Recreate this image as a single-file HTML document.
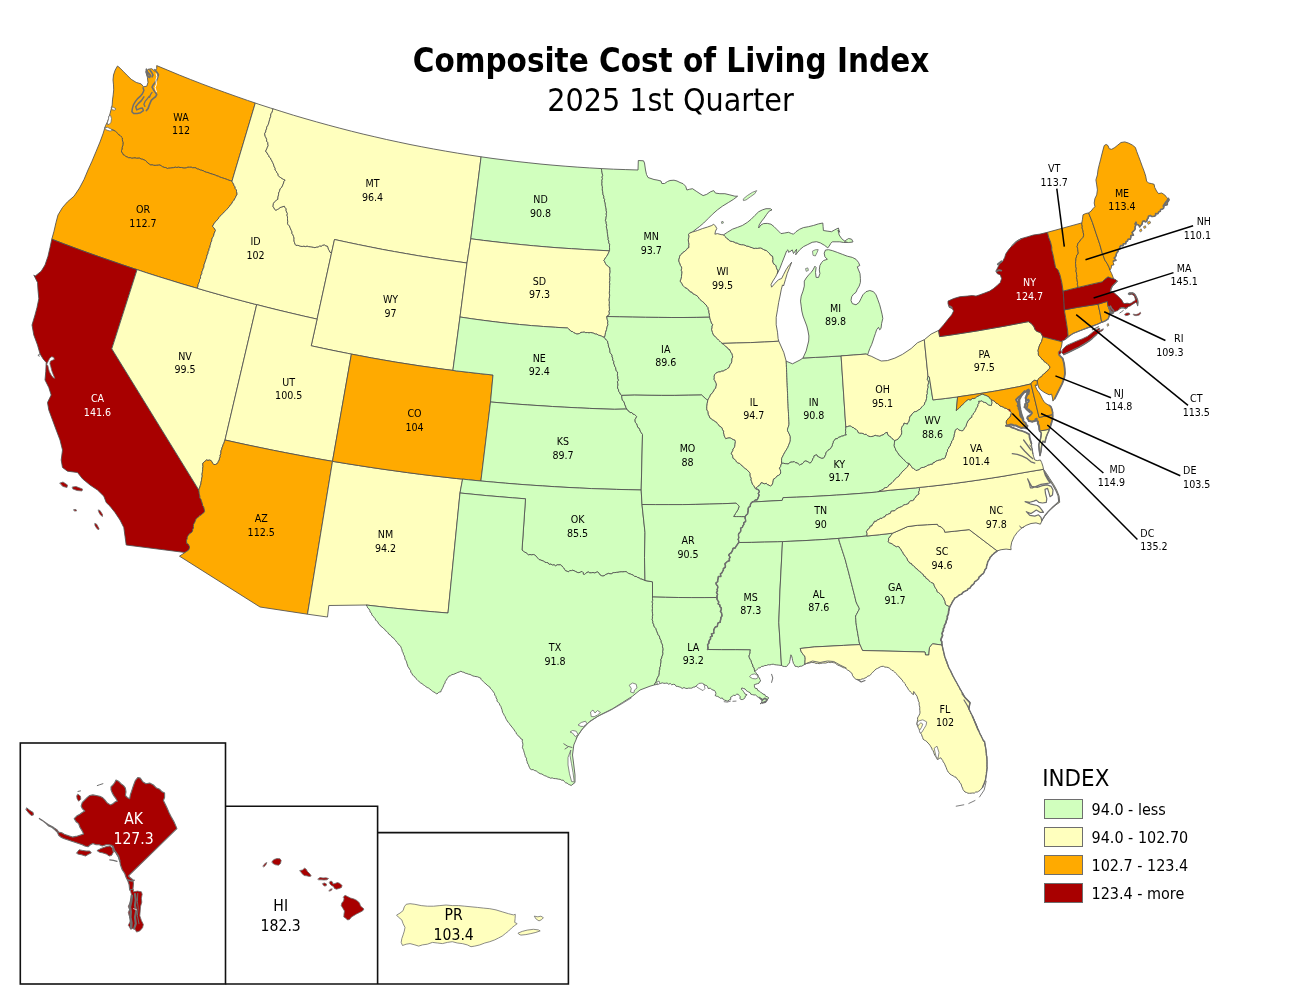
<!DOCTYPE html>
<html lang="en"><head><meta charset="utf-8"><title>Composite Cost of Living Index - 2025 1st Quarter</title>
<style>html,body{margin:0;padding:0;background:#fff}svg{display:block}text{white-space:pre}</style></head>
<body>
<svg width="1300" height="1005" viewBox="0 0 1300 1005">
<rect width="1300" height="1005" fill="#fff"/>
<g stroke="#4f4f4f" stroke-width="0.85" stroke-linejoin="round">
<path d="M117.5,66.0 115.2,70.0 113.5,75.0 113.0,79.9 113.5,84.9 113.7,89.9 113.2,94.9 112.5,99.9 112.2,104.9 111.5,108.0 110.0,113.6 108.7,118.6 106.9,123.0 105.6,125.4 104.7,128.3 106.3,128.6 107.9,128.7 109.5,129.0 111.1,129.3 112.6,129.9 114.0,130.5 115.4,131.3 116.6,132.3 117.6,133.5 118.7,134.8 120.1,135.5 121.2,136.8 122.3,137.9 122.3,139.6 122.6,141.2 123.0,142.7 122.9,144.3 122.7,145.9 122.1,147.4 122.0,149.0 121.5,150.5 121.5,152.0 122.5,153.2 123.1,154.7 124.6,155.4 125.8,156.5 127.2,157.0 128.7,157.8 130.3,157.7 131.8,158.3 133.4,158.1 135.0,157.9 136.6,158.3 138.1,158.2 139.8,158.2 141.2,159.1 142.8,159.3 144.2,160.0 145.7,160.6 146.8,161.9 147.8,163.1 149.3,163.9 150.4,165.1 152.1,164.8 153.6,165.3 155.2,165.4 156.8,165.3 158.4,165.2 160.0,165.0 161.4,166.0 162.7,166.8 164.2,167.4 165.8,167.6 167.3,168.5 168.8,168.2 170.4,168.1 172.0,167.8 173.6,167.7 175.2,167.2 176.8,167.5 178.4,167.2 180.0,167.5 181.6,167.5 183.2,168.0 184.8,168.1 186.4,167.8 187.9,167.2 189.5,167.3 191.2,167.2 192.7,167.8 194.3,167.7 195.9,167.9 197.3,169.0 198.9,169.2 200.3,170.1 201.9,170.3 203.4,170.9 204.8,171.7 206.3,172.3 207.9,172.5 209.3,173.2 210.9,173.7 212.4,174.2 214.0,174.6 215.4,175.2 216.9,175.9 218.5,176.3 219.9,177.1 221.4,177.5 222.9,178.1 224.5,178.5 226.0,179.1 227.5,179.6 229.0,180.3 230.5,180.6 232.0,181.2 233.8,175.0 255.3,103.0 247.5,100.4 236.1,96.4 224.6,92.3 213.3,88.2 201.9,83.9 190.6,79.5 179.3,75.0 168.0,70.3 156.7,65.6 156.7,68.7 154.9,71.2 151.7,68.7 148.0,69.3 146.1,72.5 147.4,77.4 148.0,82.4 146.8,86.2 143.6,86.8 141.1,83.9 136.2,82.4 131.2,79.3 126.8,75.0 123.1,71.2 120.0,68.1Z" fill="#FFAA00"/>
<path d="M104.7,128.3 103.0,133.8 100.0,142.0 96.2,151.2 92.0,161.2 88.0,170.0 84.0,179.5 79.5,188.0 74.0,196.2 67.5,201.8 62.5,207.5 58.0,215.0 56.0,222.5 54.0,231.2 51.8,239.2 63.5,243.7 75.2,248.1 87.0,252.4 98.8,256.6 110.7,260.7 122.5,264.8 134.4,268.8 137.1,269.6 146.3,272.7 158.2,276.5 170.2,280.2 182.2,283.9 194.2,287.4 197.3,288.3 198.0,286.0 198.2,284.3 198.9,282.8 199.5,281.4 199.5,279.7 200.6,278.3 200.5,276.6 201.0,275.0 201.9,273.6 201.8,271.9 202.6,270.4 203.0,268.9 203.8,267.4 204.0,265.8 204.2,264.2 204.9,262.7 205.4,261.1 205.9,259.6 206.5,258.1 206.8,256.5 207.2,254.9 208.0,253.5 208.1,251.8 208.9,250.4 209.1,248.7 209.9,247.3 210.1,245.7 210.6,244.1 210.9,242.5 211.7,241.1 211.9,239.4 212.3,237.9 213.3,236.6 213.8,235.0 214.2,233.4 214.8,231.9 215.5,230.5 214.8,229.0 213.8,227.8 212.7,226.6 213.1,225.2 214.0,223.8 214.8,222.4 216.1,221.3 217.0,220.0 218.2,218.9 219.0,217.5 220.0,216.2 221.2,215.1 222.4,214.0 223.6,212.9 224.5,211.5 225.8,210.6 226.8,209.3 228.1,208.2 228.9,206.8 230.1,205.7 231.0,204.4 232.0,203.1 232.7,201.6 233.9,200.4 234.6,198.9 235.5,197.6 236.0,196.0 237.0,194.8 237.0,193.1 236.5,191.6 236.5,189.9 235.3,188.7 235.1,186.9 234.1,185.6 233.6,184.1 232.7,182.7 232.0,181.2 230.5,180.6 229.0,180.3 227.5,179.6 226.0,179.1 224.5,178.5 222.9,178.1 221.4,177.5 219.9,177.1 218.5,176.3 216.9,175.9 215.4,175.2 214.0,174.6 212.4,174.2 210.9,173.7 209.3,173.2 207.9,172.5 206.3,172.3 204.8,171.7 203.4,170.9 201.9,170.3 200.3,170.1 198.9,169.2 197.3,169.0 195.9,167.9 194.3,167.7 192.7,167.8 191.2,167.2 189.5,167.3 187.9,167.2 186.4,167.8 184.8,168.1 183.2,168.0 181.6,167.5 180.0,167.5 178.4,167.2 176.8,167.5 175.2,167.2 173.6,167.7 172.0,167.8 170.4,168.1 168.8,168.2 167.3,168.5 165.8,167.6 164.2,167.4 162.7,166.8 161.4,166.0 160.0,165.0 158.4,165.2 156.8,165.3 155.2,165.4 153.6,165.3 152.1,164.8 150.4,165.1 149.3,163.9 147.8,163.1 146.8,161.9 145.7,160.6 144.2,160.0 142.8,159.3 141.2,159.1 139.8,158.2 138.1,158.2 136.6,158.3 135.0,157.9 133.4,158.1 131.8,158.3 130.3,157.7 128.7,157.8 127.2,157.0 125.8,156.5 124.6,155.4 123.1,154.7 122.5,153.2 121.5,152.0 121.5,150.5 122.0,149.0 122.1,147.4 122.7,145.9 122.9,144.3 123.0,142.7 122.6,141.2 122.3,139.6 122.3,137.9 121.2,136.8 120.1,135.5 118.7,134.8 117.6,133.5 116.6,132.3 115.4,131.3 114.0,130.5 112.6,129.9 111.1,129.3 109.5,129.0 107.9,128.7 106.3,128.6Z" fill="#FFAA00"/>
<path d="M51.8,239.2 50.0,247.5 48.0,256.2 45.0,265.0 41.2,271.2 35.0,276.2 33.8,275.0 37.5,282.5 38.0,290.0 38.8,298.8 37.0,307.5 35.0,315.0 32.0,325.0 33.8,335.0 37.5,345.0 40.0,353.8 43.0,358.8 46.2,362.5 45.8,371.2 45.0,380.0 48.8,387.5 51.2,395.0 47.5,402.5 48.8,410.0 52.5,420.0 56.2,430.0 60.0,440.0 62.5,450.0 61.2,460.0 62.5,467.5 67.5,471.2 77.5,472.5 82.5,478.8 90.0,485.0 97.5,490.0 103.8,496.2 106.2,502.5 110.0,506.2 115.0,512.5 120.0,520.0 123.8,527.5 125.0,536.2 126.2,545.0 185.0,552.5 186.3,551.6 187.7,550.7 188.9,549.7 189.4,548.2 189.5,546.5 189.0,545.5 188.2,544.1 186.7,543.3 186.6,541.8 186.5,540.2 187.3,538.7 187.2,537.0 188.1,535.7 189.1,534.4 190.2,533.2 191.7,532.4 192.5,531.1 192.7,529.5 193.5,528.0 193.4,526.3 193.5,524.6 194.3,523.2 195.0,521.8 195.6,520.3 196.1,518.7 197.5,517.7 198.8,516.8 199.9,515.6 201.3,514.8 202.5,513.7 203.8,512.8 204.6,511.4 204.4,510.1 204.1,508.5 203.7,506.9 202.7,505.6 202.4,504.0 202.0,502.4 201.4,500.9 201.1,499.3 199.8,498.1 199.9,496.3 199.5,494.8 199.2,493.2 199.0,491.6 198.8,490.0 111.8,348.8 137.1,269.6 134.4,268.8 122.5,264.8 110.7,260.7 98.8,256.6 87.0,252.4 75.2,248.1 63.5,243.7Z" fill="#A80000"/>
<path d="M197.3,288.3 194.2,287.4 182.2,283.9 170.2,280.2 158.2,276.5 146.3,272.7 137.1,269.6 111.8,348.8 198.8,490.0 199.3,488.5 199.9,487.0 200.3,485.5 200.9,484.0 201.0,482.3 201.4,480.8 201.6,479.2 201.9,477.6 202.3,476.1 202.0,474.4 202.3,472.8 202.5,471.3 202.7,469.7 202.7,468.1 203.0,466.5 202.8,464.9 202.8,463.2 204.1,462.2 205.2,461.0 206.4,460.0 208.0,460.4 209.6,460.1 211.1,460.6 211.9,461.9 212.7,463.3 213.7,464.5 215.4,464.5 216.9,463.9 217.8,462.8 218.4,461.3 219.3,460.0 219.5,458.3 220.3,456.9 220.1,455.2 220.9,453.7 220.9,452.1 221.1,450.5 221.8,449.1 222.1,447.5 222.8,446.0 223.2,444.5 224.0,443.1 224.4,441.5 225.0,440.0 256.7,304.6 254.5,304.1 242.4,300.9 230.3,297.7 218.2,294.3 206.2,290.9Z" fill="#FFFFBE"/>
<path d="M273.1,108.8 270.4,108.0 258.9,104.3 255.3,103.0 233.8,175.0 232.0,181.2 232.7,182.7 233.6,184.1 234.1,185.6 235.1,186.9 235.3,188.7 236.5,189.9 236.5,191.6 237.0,193.1 237.0,194.8 236.0,196.0 235.5,197.6 234.6,198.9 233.9,200.4 232.7,201.6 232.0,203.1 231.0,204.4 230.1,205.7 228.9,206.8 228.1,208.2 226.8,209.3 225.8,210.6 224.5,211.5 223.6,212.9 222.4,214.0 221.2,215.1 220.0,216.2 219.0,217.5 218.2,218.9 217.0,220.0 216.1,221.3 214.8,222.4 214.0,223.8 213.1,225.2 212.7,226.6 213.8,227.8 214.8,229.0 215.5,230.5 214.8,231.9 214.2,233.4 213.8,235.0 213.3,236.6 212.3,237.9 211.9,239.4 211.7,241.1 210.9,242.5 210.6,244.1 210.1,245.7 209.9,247.3 209.1,248.7 208.9,250.4 208.1,251.8 208.0,253.5 207.2,254.9 206.8,256.5 206.5,258.1 205.9,259.6 205.4,261.1 204.9,262.7 204.2,264.2 204.0,265.8 203.8,267.4 203.0,268.9 202.6,270.4 201.8,271.9 201.9,273.6 201.0,275.0 200.5,276.6 200.6,278.3 199.5,279.7 199.5,281.4 198.9,282.8 198.2,284.3 198.0,286.0 197.3,288.3 206.2,290.9 218.2,294.3 230.3,297.7 242.4,300.9 254.5,304.1 256.7,304.6 266.7,307.2 278.8,310.2 291.0,313.1 303.3,316.0 317.1,319.1 331.5,253.1 329.9,252.1 329.3,250.5 328.4,249.2 328.1,247.6 327.4,246.1 325.8,245.8 324.4,244.8 322.7,245.2 321.3,246.1 319.6,245.9 318.2,246.9 316.5,247.0 315.0,247.7 313.4,247.3 311.8,246.9 310.2,246.7 308.6,246.6 307.1,246.0 305.4,246.6 303.8,246.1 302.2,246.5 300.6,246.2 299.1,245.7 297.6,245.3 295.9,245.3 295.2,244.3 294.6,242.8 294.1,241.2 294.0,239.6 294.1,238.0 293.5,236.4 293.0,234.9 292.0,233.5 292.0,231.8 291.3,230.4 290.6,228.9 290.0,227.4 289.4,225.9 288.2,224.7 287.5,223.3 287.8,221.6 287.5,220.0 287.5,218.4 287.5,216.8 287.0,215.2 287.4,213.5 286.6,212.0 286.1,210.5 286.2,208.8 285.1,207.6 284.4,206.2 283.0,206.6 281.5,207.0 280.0,207.6 278.7,208.7 277.3,209.5 275.9,210.2 274.7,209.4 274.0,207.9 273.1,206.8 273.2,205.2 273.4,203.5 274.4,202.1 275.4,201.4 276.5,200.1 277.9,199.3 277.9,197.8 278.2,196.2 278.6,194.8 278.6,193.0 279.4,191.6 279.8,190.1 280.4,188.5 281.7,187.4 282.4,186.0 283.0,184.5 283.6,183.0 284.0,181.4 285.2,180.0 283.5,179.4 282.1,178.5 280.8,177.7 279.4,176.8 278.3,175.6 278.0,173.9 276.9,172.7 276.3,171.2 275.1,170.0 275.2,168.3 274.3,166.9 273.8,165.3 273.3,163.8 272.6,162.4 271.9,160.9 271.1,159.6 270.5,158.0 269.2,157.0 268.7,155.4 267.6,154.1 267.0,152.6 265.7,151.6 266.1,150.1 266.9,148.7 267.4,147.2 268.2,145.7 267.9,144.1 267.8,142.5 266.6,141.1 266.7,139.4 266.1,137.9 265.3,136.5 264.9,135.0 264.7,133.4 265.7,132.0 265.9,130.3 266.6,128.9 266.7,127.2 267.6,125.8 268.3,124.4 268.8,122.8 269.2,121.3 269.6,119.7 270.0,118.1 270.7,116.7 270.7,115.0 271.2,113.5 272.2,112.1 272.5,110.5Z" fill="#FFFFBE"/>
<path d="M481.1,156.8 469.2,155.0 457.3,153.1 445.4,151.1 433.6,149.0 421.8,146.8 410.0,144.5 398.2,142.0 386.5,139.5 374.8,136.8 363.1,134.1 351.4,131.2 339.8,128.2 328.2,125.1 316.6,121.9 305.0,118.6 293.4,115.2 281.9,111.6 273.1,108.8 272.5,110.5 272.2,112.1 271.2,113.5 270.7,115.0 270.7,116.7 270.0,118.1 269.6,119.7 269.2,121.3 268.8,122.8 268.3,124.4 267.6,125.8 266.7,127.2 266.6,128.9 265.9,130.3 265.7,132.0 264.7,133.4 264.9,135.0 265.3,136.5 266.1,137.9 266.7,139.4 266.6,141.1 267.8,142.5 267.9,144.1 268.2,145.7 267.4,147.2 266.9,148.7 266.1,150.1 265.7,151.6 267.0,152.6 267.6,154.1 268.7,155.4 269.2,157.0 270.5,158.0 271.1,159.6 271.9,160.9 272.6,162.4 273.3,163.8 273.8,165.3 274.3,166.9 275.2,168.3 275.1,170.0 276.3,171.2 276.9,172.7 278.0,173.9 278.3,175.6 279.4,176.8 280.8,177.7 282.1,178.5 283.5,179.4 285.2,180.0 284.0,181.4 283.6,183.0 283.0,184.5 282.4,186.0 281.7,187.4 280.4,188.5 279.8,190.1 279.4,191.6 278.6,193.0 278.6,194.8 278.2,196.2 277.9,197.8 277.9,199.3 276.5,200.1 275.4,201.4 274.4,202.1 273.4,203.5 273.2,205.2 273.1,206.8 274.0,207.9 274.7,209.4 275.9,210.2 277.3,209.5 278.7,208.7 280.0,207.6 281.5,207.0 283.0,206.6 284.4,206.2 285.1,207.6 286.2,208.8 286.1,210.5 286.6,212.0 287.4,213.5 287.0,215.2 287.5,216.8 287.5,218.4 287.5,220.0 287.8,221.6 287.5,223.3 288.2,224.7 289.4,225.9 290.0,227.4 290.6,228.9 291.3,230.4 292.0,231.8 292.0,233.5 293.0,234.9 293.5,236.4 294.1,238.0 294.0,239.6 294.1,241.2 294.6,242.8 295.2,244.3 295.9,245.3 297.6,245.3 299.1,245.7 300.6,246.2 302.2,246.5 303.8,246.1 305.4,246.6 307.1,246.0 308.6,246.6 310.2,246.7 311.8,246.9 313.4,247.3 315.0,247.7 316.5,247.0 318.2,246.9 319.6,245.9 321.3,246.1 322.7,245.2 324.4,244.8 325.8,245.8 327.4,246.1 328.1,247.6 328.4,249.2 329.3,250.5 329.9,252.1 331.5,253.1 334.5,239.5 346.5,242.1 358.4,244.6 370.4,247.0 382.4,249.4 394.5,251.6 406.5,253.7 418.6,255.8 430.7,257.7 442.8,259.6 454.9,261.3 467.0,263.0 470.8,238.8Z" fill="#FFFFBE"/>
<path d="M334.5,239.5 331.5,253.1 317.1,319.1 311.2,345.8 323.3,348.4 335.3,350.9 347.3,353.3 351.4,354.1 359.4,355.6 371.5,357.9 383.5,360.0 395.6,362.1 407.8,364.0 419.9,365.9 432.0,367.6 444.2,369.3 452.9,370.4 460.0,317.0 467.0,263.0 454.9,261.3 442.8,259.6 430.7,257.7 418.6,255.8 406.5,253.7 394.5,251.6 382.4,249.4 370.4,247.0 358.4,244.6 346.5,242.1Z" fill="#FFFFBE"/>
<path d="M317.1,319.1 303.3,316.0 291.0,313.1 278.8,310.2 266.7,307.2 256.7,304.6 225.0,440.0 237.1,442.7 249.2,445.3 261.3,447.8 273.4,450.3 285.6,452.7 297.7,455.0 309.9,457.3 322.0,459.5 332.5,461.3 332.5,461.2 351.4,354.1 347.3,353.3 335.3,350.9 323.3,348.4 311.2,345.8Z" fill="#FFFFBE"/>
<path d="M185.0,552.5 179.5,556.2 260.0,607.0 307.5,614.2 332.5,461.3 322.0,459.5 309.9,457.3 297.7,455.0 285.6,452.7 273.4,450.3 261.3,447.8 249.2,445.3 237.1,442.7 225.0,440.0 224.4,441.5 224.0,443.1 223.2,444.5 222.8,446.0 222.1,447.5 221.8,449.1 221.1,450.5 220.9,452.1 220.9,453.7 220.1,455.2 220.3,456.9 219.5,458.3 219.3,460.0 218.4,461.3 217.8,462.8 216.9,463.9 215.4,464.5 213.7,464.5 212.7,463.3 211.9,461.9 211.1,460.6 209.6,460.1 208.0,460.4 206.4,460.0 205.2,461.0 204.1,462.2 202.8,463.2 202.8,464.9 203.0,466.5 202.7,468.1 202.7,469.7 202.5,471.3 202.3,472.8 202.0,474.4 202.3,476.1 201.9,477.6 201.6,479.2 201.4,480.8 201.0,482.3 200.9,484.0 200.3,485.5 199.9,487.0 199.3,488.5 198.8,490.0 199.0,491.6 199.2,493.2 199.5,494.8 199.9,496.3 199.8,498.1 201.1,499.3 201.4,500.9 202.0,502.4 202.4,504.0 202.7,505.6 203.7,506.9 204.1,508.5 204.4,510.1 204.6,511.4 203.8,512.8 202.5,513.7 201.3,514.8 199.9,515.6 198.8,516.8 197.5,517.7 196.1,518.7 195.6,520.3 195.0,521.8 194.3,523.2 193.5,524.6 193.4,526.3 193.5,528.0 192.7,529.5 192.5,531.1 191.7,532.4 190.2,533.2 189.1,534.4 188.1,535.7 187.2,537.0 187.3,538.7 186.5,540.2 186.6,541.8 186.7,543.3 188.2,544.1 189.0,545.5 189.5,546.5 189.4,548.2 188.9,549.7 187.7,550.7 186.3,551.6Z" fill="#FFAA00"/>
<path d="M307.5,614.2 327.5,617.0 328.8,605.5 366.2,605.0 379.9,606.6 393.5,608.1 407.1,609.4 420.7,610.7 434.4,611.9 448.0,613.0 460.0,493.0 462.6,479.1 456.3,478.5 444.1,477.1 431.8,475.7 419.6,474.2 407.4,472.6 395.2,470.9 382.9,469.2 370.7,467.4 358.5,465.5 346.4,463.6 334.2,461.6 332.5,461.3Z" fill="#FFFFBE"/>
<path d="M332.5,461.3 334.2,461.6 346.4,463.6 358.5,465.5 370.7,467.4 382.9,469.2 395.2,470.9 407.4,472.6 419.6,474.2 431.8,475.7 444.1,477.1 456.3,478.5 462.6,479.1 468.6,479.8 480.9,481.0 490.5,402.0 493.0,375.0 480.8,373.7 468.6,372.3 456.4,370.9 452.9,370.4 444.2,369.3 432.0,367.6 419.9,365.9 407.8,364.0 395.6,362.1 383.5,360.0 371.5,357.9 359.4,355.6 351.4,354.1 332.5,461.2Z" fill="#FFAA00"/>
<path d="M601.4,168.6 589.3,167.9 577.2,167.1 565.1,166.2 553.0,165.2 541.0,164.1 528.9,162.8 516.9,161.5 505.0,160.0 493.0,158.5 481.1,156.8 470.8,238.8 483.3,240.4 495.9,241.9 508.5,243.3 521.1,244.6 533.7,245.8 546.3,246.9 558.9,247.9 571.6,248.7 584.2,249.5 596.8,250.2 609.5,250.8 609.6,249.1 609.5,247.5 609.5,245.9 609.7,244.2 608.7,242.8 608.9,241.1 608.1,239.6 608.3,238.0 607.8,236.4 607.7,234.8 607.4,233.2 607.3,231.6 607.2,229.9 606.7,228.4 606.3,226.8 606.8,225.1 606.2,223.5 606.2,221.9 605.4,220.4 606.0,218.7 606.1,217.1 606.5,215.5 606.2,213.9 606.6,212.2 606.2,210.6 606.2,209.0 605.8,207.4 605.4,205.8 605.3,204.2 605.1,202.6 604.3,201.1 604.7,199.4 603.7,198.0 603.9,196.3 603.1,194.8 602.9,193.2 602.7,191.5 602.3,190.0 602.4,188.4 602.4,186.7 602.0,185.2 601.9,183.6 602.1,181.9 601.9,180.3 602.5,178.7 602.0,177.1 602.7,175.5 602.3,173.9 602.0,172.3 601.7,170.7Z" fill="#D1FFBE"/>
<path d="M470.8,238.8 467.0,263.0 460.0,317.0 471.9,318.8 483.8,320.4 495.7,321.9 507.6,323.3 519.6,324.5 531.5,325.6 543.5,326.5 555.5,327.3 567.5,328.0 568.7,329.1 570.0,330.1 571.0,331.4 572.7,331.6 573.9,332.8 575.4,333.4 576.9,334.1 578.2,333.9 579.7,333.4 581.0,332.4 582.7,332.3 584.2,332.1 585.8,332.7 587.4,332.5 589.0,332.9 590.7,332.5 592.3,332.9 593.8,333.3 595.3,334.1 597.0,334.1 598.3,335.2 599.9,335.5 601.4,336.1 602.8,336.8 604.3,337.4 605.0,335.9 605.3,334.2 605.5,332.6 606.1,331.0 606.6,329.4 606.9,327.8 607.3,326.2 608.0,324.7 607.6,323.1 607.9,321.3 607.3,319.7 607.0,318.1 606.8,316.5 609.2,314.7 609.4,313.1 609.0,311.5 609.6,309.8 609.4,308.2 609.4,306.6 609.2,305.0 609.4,303.3 609.4,301.7 609.1,300.1 609.3,298.5 609.5,296.8 609.7,295.2 609.4,293.6 609.4,292.0 609.6,290.3 609.5,288.7 609.6,287.1 609.6,285.5 609.9,283.8 609.4,282.2 609.9,280.6 609.8,279.0 610.0,277.3 609.6,275.7 609.6,274.1 610.1,272.5 610.1,270.8 609.9,269.2 610.0,267.6 608.6,266.9 607.5,265.5 606.2,264.7 605.4,263.3 604.8,261.8 603.9,260.4 604.7,259.2 605.5,257.8 606.5,256.5 607.4,255.2 608.2,253.7 608.8,252.2 609.5,250.8 596.8,250.2 584.2,249.5 571.6,248.7 558.9,247.9 546.3,246.9 533.7,245.8 521.1,244.6 508.5,243.3 495.9,241.9 483.3,240.4Z" fill="#FFFFBE"/>
<path d="M452.9,370.4 456.4,370.9 468.6,372.3 480.8,373.7 493.0,375.0 490.5,402.0 502.9,403.0 515.2,404.0 527.6,404.9 540.0,405.7 552.4,406.5 564.8,407.2 577.2,407.8 589.6,408.4 602.0,408.9 614.4,409.3 626.9,409.0 626.0,407.6 625.5,406.0 624.8,404.6 624.4,403.0 623.8,401.4 622.4,400.3 622.1,398.7 621.8,397.1 621.8,395.4 620.4,394.3 619.9,392.7 618.7,391.5 618.6,389.8 617.7,388.3 617.5,386.7 618.0,385.1 617.8,383.4 617.4,381.8 618.6,380.2 617.8,378.5 617.9,376.9 617.4,375.4 617.5,373.7 617.6,372.0 616.2,370.8 615.9,369.2 615.6,367.5 614.7,366.2 614.3,364.6 613.6,363.1 613.9,361.3 612.6,360.0 612.8,358.3 612.1,356.8 612.1,355.1 610.9,353.8 610.0,352.3 609.9,350.7 609.7,349.0 609.0,347.5 608.4,346.0 608.4,344.3 607.8,342.9 607.6,341.1 606.3,340.0 605.3,338.7 604.3,337.4 602.8,336.8 601.4,336.1 599.9,335.5 598.3,335.2 597.0,334.1 595.3,334.1 593.8,333.3 592.3,332.9 590.7,332.5 589.0,332.9 587.4,332.5 585.8,332.7 584.2,332.1 582.7,332.3 581.0,332.4 579.7,333.4 578.2,333.9 576.9,334.1 575.4,333.4 573.9,332.8 572.7,331.6 571.0,331.4 570.0,330.1 568.7,329.1 567.5,328.0 555.5,327.3 543.5,326.5 531.5,325.6 519.6,324.5 507.6,323.3 495.7,321.9 483.8,320.4 471.9,318.8 460.0,317.0Z" fill="#D1FFBE"/>
<path d="M480.9,481.0 493.2,482.1 505.5,483.2 517.8,484.2 530.1,485.1 542.4,485.9 554.7,486.7 567.0,487.4 579.4,488.0 591.7,488.6 604.1,489.0 616.5,489.4 628.9,489.7 641.2,490.0 642.5,434.5 641.2,432.5 640.3,431.2 639.8,429.6 639.1,428.1 637.6,427.1 637.3,425.4 636.8,423.9 635.5,422.7 635.1,421.1 635.1,419.5 635.9,418.1 636.7,416.7 635.7,415.5 634.4,414.4 632.9,414.0 631.8,412.5 630.0,412.6 629.0,411.1 627.6,410.3 626.9,409.0 614.4,409.3 602.0,408.9 589.6,408.4 577.2,407.8 564.8,407.2 552.4,406.5 540.0,405.7 527.6,404.9 515.2,404.0 502.9,403.0 490.5,402.0Z" fill="#D1FFBE"/>
<path d="M480.9,481.0 468.6,479.8 462.6,479.1 460.0,493.0 473.1,494.3 486.2,495.6 499.3,496.7 512.4,497.8 525.5,498.8 522.0,550.0 523.2,551.1 524.5,552.1 526.0,552.7 527.2,553.8 528.4,554.9 530.0,554.5 531.6,554.9 533.3,554.5 534.8,555.1 536.1,556.1 537.1,557.4 538.1,558.6 539.1,559.6 540.5,560.0 542.0,560.6 543.6,561.0 544.8,562.3 546.5,562.5 548.1,562.9 549.2,564.4 551.0,564.1 552.4,565.1 554.1,564.8 555.6,565.9 557.2,564.8 558.8,564.9 560.4,564.8 561.7,565.6 562.6,567.0 563.8,568.1 564.6,569.5 565.6,570.8 567.2,571.3 568.5,571.9 569.7,570.6 571.5,570.6 572.9,570.2 574.3,570.9 575.8,571.6 577.2,572.4 578.8,572.7 580.4,572.2 581.9,571.4 583.1,572.6 583.4,574.3 584.4,574.5 585.6,573.5 586.9,572.5 588.3,572.0 589.8,572.9 591.5,572.8 593.0,572.5 594.7,573.0 596.2,572.3 597.8,572.0 599.0,573.2 599.8,574.7 601.2,575.6 602.5,576.0 604.1,575.8 605.4,574.7 606.9,574.1 608.4,573.4 610.1,573.8 611.7,573.7 613.2,572.7 614.8,572.6 616.4,572.4 618.0,572.3 619.6,572.0 621.2,571.8 622.8,571.9 624.4,571.7 626.1,571.6 627.4,572.6 628.7,573.5 630.3,574.0 631.8,574.6 633.3,575.2 634.5,576.4 636.3,576.5 637.6,577.5 639.1,577.9 640.4,578.9 642.0,579.2 643.5,579.9 645.0,580.5 644.5,557.5 645.0,532.5 642.0,504.5 641.2,490.0 628.9,489.7 616.5,489.4 604.1,489.0 591.7,488.6 579.4,488.0 567.0,487.4 554.7,486.7 542.4,485.9 530.1,485.1 517.8,484.2 505.5,483.2 493.2,482.1Z" fill="#D1FFBE"/>
<path d="M366.2,605.0 367.1,606.4 367.7,607.9 369.0,609.0 369.8,610.4 370.1,612.1 371.5,613.1 371.8,614.8 372.8,616.1 374.0,617.2 375.0,618.4 375.6,620.0 376.7,621.2 378.0,622.2 378.5,623.8 379.8,624.8 380.7,626.2 382.1,627.1 383.2,628.2 384.6,629.2 385.4,630.6 386.8,631.5 387.9,632.7 388.7,634.1 390.1,635.0 391.3,636.0 392.2,637.4 393.7,638.2 394.6,639.6 395.8,640.7 396.6,642.1 397.8,643.2 398.6,644.6 400.0,645.5 400.9,646.9 401.4,648.4 402.0,649.9 402.3,651.5 403.2,652.9 403.5,654.5 404.4,655.9 404.8,657.4 405.0,659.1 405.9,660.5 406.6,661.9 406.9,663.5 407.5,665.0 407.9,666.6 408.9,667.9 409.6,669.3 410.7,670.6 410.7,672.4 412.1,673.5 412.5,675.1 413.8,676.0 415.0,677.1 415.9,678.5 417.1,679.6 418.2,680.7 419.3,681.9 420.6,682.9 422.0,683.6 423.2,684.7 424.6,685.6 425.8,686.6 427.2,687.5 428.7,688.1 429.9,689.1 431.2,690.1 432.4,691.2 433.8,692.0 435.3,692.7 436.5,694.0 438.0,693.2 439.2,692.0 440.9,691.8 441.3,690.2 442.2,688.8 442.9,687.3 443.5,685.9 444.1,684.3 445.1,683.0 445.3,681.3 446.4,680.1 447.1,678.7 448.1,677.4 449.0,676.1 450.6,675.7 451.9,674.6 453.5,674.4 455.0,673.7 456.5,673.1 457.9,672.4 459.5,671.9 460.9,671.2 462.3,672.0 463.9,672.3 465.3,673.2 466.9,673.5 468.4,674.2 470.0,674.4 471.4,675.2 472.9,675.9 474.4,676.3 476.0,676.6 477.6,676.8 479.1,677.5 480.6,678.0 481.2,679.5 482.3,680.7 483.6,681.8 484.7,682.8 485.8,684.0 487.1,684.9 488.2,686.1 489.7,686.9 490.4,688.4 491.6,689.5 492.6,690.8 493.5,692.1 494.5,693.4 494.7,695.1 495.8,696.3 496.1,698.0 497.0,699.3 497.0,701.1 498.2,702.3 499.3,703.5 499.8,705.1 500.8,706.3 501.3,707.9 501.9,709.4 502.3,710.9 502.6,712.5 503.6,713.9 504.2,715.3 505.1,716.6 505.7,718.2 506.4,719.6 507.3,721.0 508.2,722.3 509.3,723.5 510.1,724.9 511.2,726.0 512.0,727.4 513.3,728.5 514.1,729.9 515.0,731.3 516.0,732.5 516.5,734.1 517.8,735.1 518.7,736.5 520.1,737.3 520.9,738.9 522.5,739.5 522.2,741.3 522.7,742.9 522.9,744.5 522.7,746.1 522.4,747.7 523.2,749.2 523.7,750.7 524.1,752.2 524.6,753.8 525.0,755.3 525.4,756.9 526.5,758.2 526.4,759.9 527.1,761.4 527.3,763.0 528.3,764.4 528.8,765.9 529.4,767.4 530.1,768.8 531.5,769.7 533.2,769.6 534.6,770.6 536.2,770.9 537.5,772.0 538.8,772.9 540.2,773.7 541.9,774.0 543.2,774.9 544.6,775.7 546.2,776.1 547.6,777.0 549.1,777.4 550.5,778.2 552.2,777.9 553.7,778.5 555.3,778.6 557.0,778.8 558.5,779.2 560.1,779.3 561.6,780.2 563.3,780.2 564.3,781.5 565.5,782.7 567.1,783.1 568.3,784.2 569.8,784.8 571.2,785.5 575.0,782.5 575.0,775.0 573.8,765.0 572.5,755.0 573.8,745.0 577.5,736.2 582.5,728.8 590.0,721.2 600.0,715.0 612.5,708.8 622.5,702.5 632.5,696.2 640.0,690.0 650.0,686.2 654.4,684.9 655.2,683.1 656.2,681.7 656.6,680.1 657.2,678.6 657.8,677.1 658.8,675.7 659.2,674.1 659.3,672.5 659.3,670.8 659.9,669.3 659.8,667.6 660.6,666.1 660.5,664.4 660.9,662.9 661.1,661.2 660.9,659.5 661.7,658.0 662.0,656.5 662.7,654.9 663.0,653.4 662.7,651.7 663.1,650.1 663.1,648.4 662.5,646.8 662.6,645.2 662.0,643.7 661.2,642.2 661.2,640.5 660.2,639.1 659.7,637.6 659.3,636.0 658.2,634.8 657.6,633.3 657.0,631.7 656.3,630.2 656.0,628.6 654.8,627.3 653.9,626.0 653.7,624.3 652.8,622.9 652.9,621.4 652.2,619.8 652.5,618.1 652.4,616.5 652.8,614.9 652.5,613.3 652.4,611.6 652.3,610.0 652.5,608.4 652.4,606.8 652.4,605.1 652.7,603.5 652.1,601.9 652.8,600.3 652.5,598.6 652.5,597.0 652.5,581.8 645.0,580.5 643.5,579.9 642.0,579.2 640.4,578.9 639.1,577.9 637.6,577.5 636.3,576.5 634.5,576.4 633.3,575.2 631.8,574.6 630.3,574.0 628.7,573.5 627.4,572.6 626.1,571.6 624.4,571.7 622.8,571.9 621.2,571.8 619.6,572.0 618.0,572.3 616.4,572.4 614.8,572.6 613.2,572.7 611.7,573.7 610.1,573.8 608.4,573.4 606.9,574.1 605.4,574.7 604.1,575.8 602.5,576.0 601.2,575.6 599.8,574.7 599.0,573.2 597.8,572.0 596.2,572.3 594.7,573.0 593.0,572.5 591.5,572.8 589.8,572.9 588.3,572.0 586.9,572.5 585.6,573.5 584.4,574.5 583.4,574.3 583.1,572.6 581.9,571.4 580.4,572.2 578.8,572.7 577.2,572.4 575.8,571.6 574.3,570.9 572.9,570.2 571.5,570.6 569.7,570.6 568.5,571.9 567.2,571.3 565.6,570.8 564.6,569.5 563.8,568.1 562.6,567.0 561.7,565.6 560.4,564.8 558.8,564.9 557.2,564.8 555.6,565.9 554.1,564.8 552.4,565.1 551.0,564.1 549.2,564.4 548.1,562.9 546.5,562.5 544.8,562.3 543.6,561.0 542.0,560.6 540.5,560.0 539.1,559.6 538.1,558.6 537.1,557.4 536.1,556.1 534.8,555.1 533.3,554.5 531.6,554.9 530.0,554.5 528.4,554.9 527.2,553.8 526.0,552.7 524.5,552.1 523.2,551.1 522.0,550.0 525.5,498.8 512.4,497.8 499.3,496.7 486.2,495.6 473.1,494.3 460.0,493.0 448.0,613.0 434.4,611.9 420.7,610.7 407.1,609.4 393.5,608.1 379.9,606.6Z" fill="#D1FFBE"/>
<path d="M692.5,232.0 695.0,229.9 699.3,226.7 703.7,223.0 708.1,218.6 712.4,214.3 717.4,209.9 722.4,206.2 728.6,202.4 733.6,199.3 737.6,196.2 734.9,196.2 729.9,194.9 724.9,193.7 719.9,193.7 715.5,193.1 713.7,190.6 710.5,191.8 706.8,194.3 703.1,195.6 700.0,193.7 696.2,191.2 692.5,188.7 689.4,189.3 686.9,190.0 685.6,186.2 683.1,183.7 680.0,182.5 677.0,181.0 674.0,180.2 670.0,180.5 667.5,181.5 664.5,183.5 661.8,183.5 661.0,181.0 657.0,180.0 654.0,179.5 651.0,178.5 648.0,177.5 646.5,174.5 645.5,170.0 644.5,163.0 643.5,160.8 638.3,160.5 638.0,170.0 625.8,169.6 613.6,169.2 601.4,168.6 601.7,170.7 602.0,172.3 602.3,173.9 602.7,175.5 602.0,177.1 602.5,178.7 601.9,180.3 602.1,181.9 601.9,183.6 602.0,185.2 602.4,186.7 602.4,188.4 602.3,190.0 602.7,191.5 602.9,193.2 603.1,194.8 603.9,196.3 603.7,198.0 604.7,199.4 604.3,201.1 605.1,202.6 605.3,204.2 605.4,205.8 605.8,207.4 606.2,209.0 606.2,210.6 606.6,212.2 606.2,213.9 606.5,215.5 606.1,217.1 606.0,218.7 605.4,220.4 606.2,221.9 606.2,223.5 606.8,225.1 606.3,226.8 606.7,228.4 607.2,229.9 607.3,231.6 607.4,233.2 607.7,234.8 607.8,236.4 608.3,238.0 608.1,239.6 608.9,241.1 608.7,242.8 609.7,244.2 609.5,245.9 609.5,247.5 609.6,249.1 609.5,250.8 608.8,252.2 608.2,253.7 607.4,255.2 606.5,256.5 605.5,257.8 604.7,259.2 603.9,260.4 604.8,261.8 605.4,263.3 606.2,264.7 607.5,265.5 608.6,266.9 610.0,267.6 609.9,269.2 610.1,270.8 610.1,272.5 609.6,274.1 609.6,275.7 610.0,277.3 609.8,279.0 609.9,280.6 609.4,282.2 609.9,283.8 609.6,285.5 609.6,287.1 609.5,288.7 609.6,290.3 609.4,292.0 609.4,293.6 609.7,295.2 609.5,296.8 609.3,298.5 609.1,300.1 609.4,301.7 609.4,303.3 609.2,305.0 609.4,306.6 609.4,308.2 609.6,309.8 609.0,311.5 609.4,313.1 609.2,314.7 606.8,316.5 619.7,316.8 632.5,317.1 645.4,317.3 658.3,317.4 671.1,317.5 684.0,317.5 696.8,317.4 709.7,317.2 709.4,315.6 709.4,314.0 708.9,312.4 708.9,310.8 708.2,309.3 708.1,307.6 707.0,306.4 706.2,305.0 704.9,304.0 703.9,302.6 702.6,301.6 701.4,300.6 700.1,299.5 699.1,298.3 698.2,296.9 697.0,295.8 695.6,294.9 694.2,294.2 692.7,293.5 691.8,292.0 690.0,291.7 689.1,290.2 687.7,289.3 686.7,288.1 685.0,287.6 683.9,286.4 682.7,285.2 682.0,283.7 681.2,282.3 680.0,281.2 680.8,279.8 681.3,278.2 681.5,276.6 681.6,275.0 681.9,273.4 682.0,271.8 681.2,270.2 681.7,268.6 681.6,266.9 680.5,265.6 680.1,264.0 679.4,262.5 678.9,261.1 678.9,259.5 679.4,257.9 679.7,256.3 680.4,255.0 681.7,254.1 682.7,252.7 684.1,251.8 685.4,250.9 686.5,249.7 687.4,248.4 689.0,247.5 688.8,245.8 689.1,244.2 688.7,242.6 688.4,241.0 688.4,239.3 688.8,237.7 689.1,236.1 688.5,234.5 689.5,233.3 691.0,232.6Z" fill="#D1FFBE"/>
<path d="M606.8,316.5 607.0,318.1 607.3,319.7 607.9,321.3 607.6,323.1 608.0,324.7 607.3,326.2 606.9,327.8 606.6,329.4 606.1,331.0 605.5,332.6 605.3,334.2 605.0,335.9 604.3,337.4 605.3,338.7 606.3,340.0 607.6,341.1 607.8,342.9 608.4,344.3 608.4,346.0 609.0,347.5 609.7,349.0 609.9,350.7 610.0,352.3 610.9,353.8 612.1,355.1 612.1,356.8 612.8,358.3 612.6,360.0 613.9,361.3 613.6,363.1 614.3,364.6 614.7,366.2 615.6,367.5 615.9,369.2 616.2,370.8 617.6,372.0 617.5,373.7 617.4,375.4 617.9,376.9 617.8,378.5 618.6,380.2 617.4,381.8 617.8,383.4 618.0,385.1 617.5,386.7 617.7,388.3 618.6,389.8 618.7,391.5 619.9,392.7 620.4,394.3 621.8,395.4 634.6,395.1 648.0,395.3 661.4,395.4 674.8,395.4 688.2,395.2 701.6,395.0 702.8,396.1 704.0,397.2 705.2,398.3 706.5,399.4 707.8,400.4 708.4,398.9 709.3,397.5 710.1,396.1 710.5,394.5 712.0,393.6 712.8,392.2 713.8,390.9 714.4,389.3 715.7,388.3 716.0,386.7 716.4,385.1 716.3,383.6 715.6,382.2 714.9,380.7 714.1,379.4 714.3,377.8 714.2,376.2 714.7,374.6 715.8,373.3 717.2,372.5 718.6,372.0 720.3,371.9 721.8,371.1 723.5,371.2 724.6,370.0 726.3,369.6 727.5,368.4 729.0,367.6 729.6,366.1 730.2,364.6 731.2,363.3 731.8,361.7 731.9,360.1 732.1,358.4 732.8,357.0 732.4,355.4 732.1,353.8 731.1,352.5 730.3,351.1 729.7,349.6 728.1,348.8 727.3,347.4 725.9,346.5 724.7,345.4 723.4,344.4 722.2,343.4 721.0,342.3 719.8,341.1 718.6,340.0 717.5,338.8 716.2,337.7 715.3,336.4 713.8,335.5 713.1,334.0 712.5,332.5 712.1,330.9 711.6,329.4 712.1,327.8 712.1,326.1 712.9,324.5 711.5,323.5 711.2,321.9 710.5,320.4 710.1,318.8 709.7,317.2 696.8,317.4 684.0,317.5 671.1,317.5 658.3,317.4 645.4,317.3 632.5,317.1 619.7,316.8Z" fill="#D1FFBE"/>
<path d="M621.8,395.4 621.8,397.1 622.1,398.7 622.4,400.3 623.8,401.4 624.4,403.0 624.8,404.6 625.5,406.0 626.0,407.6 626.9,409.0 627.6,410.3 629.0,411.1 630.0,412.6 631.8,412.5 632.9,414.0 634.4,414.4 635.7,415.5 636.7,416.7 635.9,418.1 635.1,419.5 635.1,421.1 635.5,422.7 636.8,423.9 637.3,425.4 637.6,427.1 639.1,428.1 639.8,429.6 640.3,431.2 641.2,432.5 642.5,434.5 641.2,490.0 642.0,504.5 655.4,504.6 668.9,504.6 682.3,504.6 695.8,504.4 709.2,504.1 722.6,503.7 736.1,503.2 737.3,504.3 738.5,505.4 739.0,506.6 738.5,508.1 737.9,509.7 737.1,511.0 736.2,512.4 735.4,513.7 734.5,515.1 733.6,516.5 735.0,516.6 736.6,516.6 738.2,516.6 739.9,516.6 741.5,516.7 743.1,516.7 744.7,516.7 745.2,516.6 746.2,515.0 747.6,513.9 747.9,512.3 748.2,510.7 748.2,509.0 748.5,507.4 750.3,506.3 750.4,504.6 751.1,503.1 752.3,502.0 753.9,501.3 755.3,500.1 757.1,499.9 757.9,498.4 758.5,496.8 759.2,495.1 758.3,493.5 759.4,491.6 758.5,489.9 757.0,489.1 755.4,488.5 754.6,487.1 753.8,485.7 752.7,484.5 752.1,483.0 751.6,481.4 751.0,479.9 751.3,478.2 750.4,476.7 750.1,475.1 750.2,473.4 749.2,472.1 748.1,471.0 747.0,469.7 745.7,468.8 744.4,467.8 743.2,466.7 742.0,465.6 740.7,464.6 739.6,463.3 737.9,462.9 736.6,462.0 735.8,460.5 734.7,459.2 733.2,458.4 732.8,456.8 732.5,455.2 731.3,453.8 731.9,452.1 732.9,450.7 733.0,449.0 734.2,447.8 734.8,446.2 735.0,444.6 735.2,443.1 735.4,441.4 734.8,439.9 733.2,439.5 731.8,438.7 730.4,437.8 729.0,437.7 727.3,438.0 725.8,438.7 725.1,437.4 724.3,436.0 724.1,434.4 723.5,432.9 723.7,431.1 722.6,429.8 722.2,428.1 721.1,426.9 719.5,426.2 718.7,424.7 717.4,423.7 716.6,422.2 715.1,421.5 713.9,420.4 712.3,419.8 711.3,418.5 709.7,417.7 709.3,416.0 708.4,414.6 708.2,413.0 708.0,411.4 706.9,410.0 706.8,408.3 706.8,406.7 707.0,405.2 707.2,403.6 707.5,402.0 707.8,400.4 706.5,399.4 705.2,398.3 704.0,397.2 702.8,396.1 701.6,395.0 688.2,395.2 674.8,395.4 661.4,395.4 648.0,395.3 634.6,395.1Z" fill="#D1FFBE"/>
<path d="M738.8,542.5 738.7,540.9 738.2,539.3 738.8,537.7 738.5,536.0 738.5,534.3 739.3,532.9 740.6,531.5 740.8,530.1 740.6,528.1 742.4,527.3 742.9,525.7 743.9,524.4 743.8,522.6 745.6,521.7 745.6,519.9 745.2,518.4 745.2,516.6 744.7,516.7 743.1,516.7 741.5,516.7 739.9,516.6 738.2,516.6 736.6,516.6 735.0,516.6 733.6,516.5 734.5,515.1 735.4,513.7 736.2,512.4 737.1,511.0 737.9,509.7 738.5,508.1 739.0,506.6 738.5,505.4 737.3,504.3 736.1,503.2 722.6,503.7 709.2,504.1 695.8,504.4 682.3,504.6 668.9,504.6 655.4,504.6 642.0,504.5 645.0,532.5 644.5,557.5 645.0,580.5 652.5,581.8 652.5,597.0 665.4,597.3 678.3,597.5 691.2,597.6 704.1,597.6 717.0,597.5 717.1,595.9 717.6,594.3 716.5,592.6 717.5,591.0 717.2,589.4 717.8,587.6 717.6,586.0 716.4,584.6 716.0,582.8 717.7,581.7 717.7,580.0 718.2,578.4 718.4,576.5 720.9,576.4 720.4,573.9 721.8,573.0 722.5,571.6 723.4,570.2 723.4,568.5 725.3,567.4 725.4,565.7 725.0,563.6 726.3,562.6 727.4,561.4 729.5,560.7 729.3,558.7 730.1,557.2 728.8,555.3 729.5,553.8 731.1,553.0 731.9,551.7 732.6,550.1 733.1,548.3 735.2,548.1 735.9,546.5 736.9,545.2 737.8,543.8Z" fill="#D1FFBE"/>
<path d="M654.4,684.9 655.9,684.6 657.5,684.1 658.9,683.2 660.6,683.5 662.2,682.8 663.8,683.3 665.4,683.3 667.1,683.0 668.5,684.2 670.3,683.5 671.7,684.8 673.4,684.3 675.0,684.6 676.1,686.3 677.8,686.4 679.3,686.9 680.8,687.4 682.2,688.5 684.0,687.5 685.5,688.3 687.1,688.5 688.7,688.1 690.3,688.2 691.9,688.1 693.2,687.2 695.0,687.0 696.1,685.8 697.5,685.2 698.9,684.2 700.6,684.1 702.1,684.2 703.8,684.2 705.1,685.2 706.7,685.6 707.6,686.8 708.2,688.5 710.3,688.2 711.5,689.3 713.0,690.1 714.5,690.5 715.4,691.8 715.9,693.4 716.0,694.3 714.9,695.3 716.3,696.2 717.7,696.4 719.2,697.3 720.4,698.3 722.4,698.0 723.3,699.6 724.8,700.2 726.3,700.7 727.9,701.2 729.1,699.9 730.8,699.3 730.6,697.3 732.1,696.4 733.4,695.3 735.2,695.5 736.5,694.3 738.1,694.2 739.2,695.5 740.3,696.8 739.8,698.5 741.1,699.5 742.7,699.5 743.9,698.8 745.1,697.7 745.3,696.0 747.1,694.8 745.2,694.2 744.3,692.7 743.4,691.4 742.5,690.3 741.3,689.1 741.9,687.9 743.3,688.5 745.0,688.9 746.0,690.3 747.3,691.3 748.5,691.9 750.1,692.7 750.8,694.2 752.4,694.6 754.0,695.0 755.6,695.0 756.9,696.2 758.1,697.3 759.9,697.3 761.1,698.5 762.5,699.2 762.1,700.6 761.7,702.2 760.7,703.4 760.1,704.0 761.4,703.0 763.0,702.7 764.3,701.6 766.0,701.4 766.9,699.8 768.1,699.0 768.5,697.5 767.1,696.7 765.5,696.2 764.8,694.5 763.0,694.1 761.9,693.0 760.5,692.2 759.3,691.1 757.8,690.5 757.1,688.6 755.3,688.4 754.5,686.9 754.4,685.4 754.3,684.7 755.9,684.2 757.4,683.7 759.0,683.2 759.7,681.5 761.0,680.7 759.8,679.5 759.5,677.8 758.2,676.7 758.0,674.9 756.7,673.9 755.9,672.6 754.7,671.4 754.4,669.8 754.2,668.1 753.1,666.8 752.8,665.1 752.0,663.7 751.4,662.2 751.1,660.5 750.1,659.2 749.4,657.7 749.0,656.1 749.5,654.5 750.1,653.0 750.1,651.3 750.4,649.7 735.8,649.6 721.7,649.6 707.5,649.5 708.1,648.0 707.8,646.3 707.6,644.6 708.9,643.3 708.9,641.6 709.6,640.1 710.6,638.9 710.4,637.0 712.3,636.1 711.4,633.9 713.9,633.2 713.7,631.4 713.9,629.8 714.5,628.3 715.4,626.9 717.3,626.4 717.6,624.6 718.0,622.9 720.2,622.3 720.4,620.6 720.8,619.0 721.0,617.2 722.0,616.0 721.8,614.4 721.5,612.8 720.4,611.3 721.3,609.6 721.3,607.8 719.9,606.7 719.9,604.9 718.1,603.9 718.8,602.0 717.8,600.6 717.1,599.1 717.0,597.5 704.1,597.6 691.2,597.6 678.3,597.5 665.4,597.3 652.5,597.0 652.5,598.6 652.8,600.3 652.1,601.9 652.7,603.5 652.4,605.1 652.4,606.8 652.5,608.4 652.3,610.0 652.4,611.6 652.5,613.3 652.8,614.9 652.4,616.5 652.5,618.1 652.2,619.8 652.9,621.4 652.8,622.9 653.7,624.3 653.9,626.0 654.8,627.3 656.0,628.6 656.3,630.2 657.0,631.7 657.6,633.3 658.2,634.8 659.3,636.0 659.7,637.6 660.2,639.1 661.2,640.5 661.2,642.2 662.0,643.7 662.6,645.2 662.5,646.8 663.1,648.4 663.1,650.1 662.7,651.7 663.0,653.4 662.7,654.9 662.0,656.5 661.7,658.0 660.9,659.5 661.1,661.2 660.9,662.9 660.5,664.4 660.6,666.1 659.8,667.6 659.9,669.3 659.3,670.8 659.3,672.5 659.2,674.1 658.8,675.7 657.8,677.1 657.2,678.6 656.6,680.1 656.2,681.7 655.2,683.1Z" fill="#D1FFBE"/>
<path d="M778.8,341.2 778.1,338.5 777.5,332.2 776.2,324.8 776.2,317.3 777.5,309.8 778.7,302.3 780.0,296.1 781.2,289.9 782.5,284.9 783.5,286.0 785.4,279.7 787.2,273.5 789.7,267.3 791.6,262.3 790.3,264.1 788.5,266.0 786.0,269.8 783.5,274.7 781.6,278.5 778.5,279.7 774.8,283.5 771.6,287.2 771.0,284.7 772.9,281.0 775.4,277.2 777.3,273.5 777.7,271.9 777.8,270.3 776.8,268.9 776.4,267.4 776.0,265.8 775.0,264.6 773.6,263.9 773.2,262.7 772.7,261.0 773.1,259.4 772.9,257.8 772.5,256.1 770.9,255.4 770.0,254.0 768.8,252.9 767.7,251.7 766.5,250.6 765.0,250.1 763.5,249.5 762.1,248.6 760.6,247.9 758.9,248.0 757.4,248.4 755.7,248.2 754.1,248.5 752.6,247.8 751.0,247.4 749.5,246.7 748.0,246.2 746.4,246.0 744.9,245.2 743.3,244.7 741.7,244.7 740.0,244.5 738.5,243.8 737.1,243.0 735.4,242.8 734.0,241.9 732.4,241.5 730.8,241.2 729.4,240.6 728.4,239.3 726.9,238.5 725.9,237.2 724.7,236.1 723.6,234.8 721.1,234.6 717.4,233.6 714.9,234.2 715.5,231.1 716.8,228.6 715.5,226.1 713.7,224.2 711.8,225.5 707.4,227.1 702.4,228.6 697.5,230.5 692.5,232.0 691.0,232.6 689.5,233.3 688.5,234.5 689.1,236.1 688.8,237.7 688.4,239.3 688.4,241.0 688.7,242.6 689.1,244.2 688.8,245.8 689.0,247.5 687.4,248.4 686.5,249.7 685.4,250.9 684.1,251.8 682.7,252.7 681.7,254.1 680.4,255.0 679.7,256.3 679.4,257.9 678.9,259.5 678.9,261.1 679.4,262.5 680.1,264.0 680.5,265.6 681.6,266.9 681.7,268.6 681.2,270.2 682.0,271.8 681.9,273.4 681.6,275.0 681.5,276.6 681.3,278.2 680.8,279.8 680.0,281.2 681.2,282.3 682.0,283.7 682.7,285.2 683.9,286.4 685.0,287.6 686.7,288.1 687.7,289.3 689.1,290.2 690.0,291.7 691.8,292.0 692.7,293.5 694.2,294.2 695.6,294.9 697.0,295.8 698.2,296.9 699.1,298.3 700.1,299.5 701.4,300.6 702.6,301.6 703.9,302.6 704.9,304.0 706.2,305.0 707.0,306.4 708.1,307.6 708.2,309.3 708.9,310.8 708.9,312.4 709.4,314.0 709.4,315.6 709.7,317.2 710.1,318.8 710.5,320.4 711.2,321.9 711.5,323.5 712.9,324.5 712.1,326.1 712.1,327.8 711.6,329.4 712.1,330.9 712.5,332.5 713.1,334.0 713.8,335.5 715.3,336.4 716.2,337.7 717.5,338.8 718.6,340.0 719.8,341.1 721.0,342.3 722.2,343.4 736.3,343.0 750.5,342.6 764.6,342.0Z" fill="#FFFFBE"/>
<path d="M786.2,361.2 783.8,352.5 778.8,341.2 764.6,342.0 750.5,342.6 736.3,343.0 722.2,343.4 723.4,344.4 724.7,345.4 725.9,346.5 727.3,347.4 728.1,348.8 729.7,349.6 730.3,351.1 731.1,352.5 732.1,353.8 732.4,355.4 732.8,357.0 732.1,358.4 731.9,360.1 731.8,361.7 731.2,363.3 730.2,364.6 729.6,366.1 729.0,367.6 727.5,368.4 726.3,369.6 724.6,370.0 723.5,371.2 721.8,371.1 720.3,371.9 718.6,372.0 717.2,372.5 715.8,373.3 714.7,374.6 714.2,376.2 714.3,377.8 714.1,379.4 714.9,380.7 715.6,382.2 716.3,383.6 716.4,385.1 716.0,386.7 715.7,388.3 714.4,389.3 713.8,390.9 712.8,392.2 712.0,393.6 710.5,394.5 710.1,396.1 709.3,397.5 708.4,398.9 707.8,400.4 707.5,402.0 707.2,403.6 707.0,405.2 706.8,406.7 706.8,408.3 706.9,410.0 708.0,411.4 708.2,413.0 708.4,414.6 709.3,416.0 709.7,417.7 711.3,418.5 712.3,419.8 713.9,420.4 715.1,421.5 716.6,422.2 717.4,423.7 718.7,424.7 719.5,426.2 721.1,426.9 722.2,428.1 722.6,429.8 723.7,431.1 723.5,432.9 724.1,434.4 724.3,436.0 725.1,437.4 725.8,438.7 727.3,438.0 729.0,437.7 730.4,437.8 731.8,438.7 733.2,439.5 734.8,439.9 735.4,441.4 735.2,443.1 735.0,444.6 734.8,446.2 734.2,447.8 733.0,449.0 732.9,450.7 731.9,452.1 731.3,453.8 732.5,455.2 732.8,456.8 733.2,458.4 734.7,459.2 735.8,460.5 736.6,462.0 737.9,462.9 739.6,463.3 740.7,464.6 742.0,465.6 743.2,466.7 744.4,467.8 745.7,468.8 747.0,469.7 748.1,471.0 749.2,472.1 750.2,473.4 750.1,475.1 750.4,476.7 751.3,478.2 751.0,479.9 751.6,481.4 752.1,483.0 752.7,484.5 753.8,485.7 754.6,487.1 755.4,488.5 756.7,487.6 757.9,486.3 759.4,485.5 760.4,484.2 761.2,482.7 762.9,483.2 764.5,483.9 766.3,483.3 767.4,484.7 769.0,485.2 770.4,486.1 771.8,485.2 772.4,484.2 772.9,482.6 773.2,480.9 773.5,479.1 775.1,478.4 776.2,477.2 777.2,475.9 778.8,475.3 780.1,474.2 780.7,473.0 780.6,471.4 780.3,469.7 779.4,468.1 780.6,466.7 780.9,465.1 781.6,463.6 781.6,462.0 781.6,460.3 781.6,458.7 782.2,457.3 783.0,455.8 783.7,454.3 784.5,452.9 785.3,451.5 786.2,450.1 787.0,448.7 787.8,447.4 788.4,445.8 789.0,444.3 789.6,442.8 790.2,441.3 790.3,439.7 790.3,438.1 790.3,436.5 789.7,435.0 789.0,433.5 788.3,432.1 787.5,430.6 787.5,429.1 788.1,427.6 788.6,426.1 789.0,424.5 789.0,422.9 788.9,421.3 788.8,419.7 788.7,418.0 788.6,416.4 788.5,414.8 788.5,413.2 788.4,411.6 788.3,409.9 788.2,408.3 788.1,406.7 788.1,405.1 788.0,403.4 787.9,401.8 787.8,400.2 787.7,398.6 787.7,397.0 787.6,395.3 787.6,393.7 787.5,392.1 787.4,390.5 787.4,388.8 787.3,387.2 787.2,385.6 787.2,384.0 787.1,382.3 787.0,380.7 787.0,379.1 786.9,377.5 786.8,375.9 786.8,374.2 786.7,372.6 786.6,371.0 786.6,369.4 786.5,367.7 786.4,366.1 786.4,364.5 786.3,362.9Z" fill="#FFFFBE"/>
<path d="M803.0,358.0 800.0,360.0 792.5,363.8 786.2,361.2 786.3,362.9 786.4,364.5 786.4,366.1 786.5,367.7 786.6,369.4 786.6,371.0 786.7,372.6 786.8,374.2 786.8,375.9 786.9,377.5 787.0,379.1 787.0,380.7 787.1,382.3 787.2,384.0 787.2,385.6 787.3,387.2 787.4,388.8 787.4,390.5 787.5,392.1 787.6,393.7 787.6,395.3 787.7,397.0 787.7,398.6 787.8,400.2 787.9,401.8 788.0,403.4 788.1,405.1 788.1,406.7 788.2,408.3 788.3,409.9 788.4,411.6 788.5,413.2 788.5,414.8 788.6,416.4 788.7,418.0 788.8,419.7 788.9,421.3 789.0,422.9 789.0,424.5 788.6,426.1 788.1,427.6 787.5,429.1 787.5,430.6 788.3,432.1 789.0,433.5 789.7,435.0 790.3,436.5 790.3,438.1 790.3,439.7 790.2,441.3 789.6,442.8 789.0,444.3 788.4,445.8 787.8,447.4 787.0,448.7 786.2,450.1 785.3,451.5 784.5,452.9 783.7,454.3 783.0,455.8 782.2,457.3 781.6,458.7 781.6,460.3 781.6,462.0 781.6,463.6 782.2,463.3 783.7,463.3 785.3,463.7 786.9,463.8 788.4,464.0 789.5,462.7 791.0,462.1 792.6,462.1 794.3,461.6 795.5,462.8 797.3,462.9 798.4,464.1 799.6,465.2 800.6,464.5 802.2,463.9 803.4,462.8 804.3,461.4 805.7,461.0 807.1,461.4 808.2,462.0 809.5,463.0 810.5,463.0 811.4,461.7 812.4,460.4 812.8,458.8 813.8,457.5 814.1,455.8 815.8,455.1 816.7,454.8 817.4,456.3 818.8,457.0 820.3,457.8 821.8,458.4 823.4,458.1 824.3,457.4 824.9,455.9 825.7,454.5 825.9,452.9 826.9,451.6 827.9,450.4 829.2,449.6 830.5,448.7 831.4,447.3 832.3,445.9 832.5,444.3 833.3,442.8 833.4,441.2 834.7,440.2 835.6,438.7 837.4,438.7 838.5,437.3 840.1,437.0 841.5,436.2 843.1,436.0 844.6,435.2 846.4,435.0 845.5,433.3 845.8,431.6 845.5,430.1 845.8,428.5 845.8,426.9 841.1,355.9 828.4,356.7 815.7,357.4Z" fill="#D1FFBE"/>
<path d="M866.5,354.0 867.5,355.0 868.5,352.2 869.8,348.5 871.6,344.7 872.9,341.0 874.1,337.2 875.4,333.5 876.6,329.8 878.5,327.3 879.7,329.8 881.0,328.5 881.6,323.5 882.8,318.5 882.2,314.8 881.0,309.8 879.7,304.8 877.9,299.8 876.0,294.8 873.5,291.7 869.8,290.5 866.0,291.7 862.9,294.8 861.0,298.6 859.2,302.3 856.0,304.8 852.3,303.6 851.0,300.4 851.7,296.7 853.5,294.2 856.0,292.3 857.3,289.2 859.2,286.1 860.4,282.4 860.4,278.6 860.0,273.6 858.5,269.9 857.3,266.8 859.8,265.5 858.5,262.4 856.0,259.3 852.3,257.4 847.3,256.2 842.3,254.3 837.3,252.4 832.3,250.6 828.6,249.7 825.5,250.0 824.2,253.1 824.9,256.8 827.4,259.3 823.6,260.5 821.7,262.4 819.9,265.5 819.3,269.9 819.9,273.6 818.6,277.4 816.1,277.4 815.5,272.4 816.1,267.4 814.9,266.2 813.0,269.9 811.1,272.4 808.7,274.9 806.2,278.0 804.3,281.1 804.3,286.1 803.0,291.1 801.2,296.1 800.5,301.1 801.2,306.1 801.8,311.0 803.0,316.0 804.9,321.0 806.8,326.0 808.0,331.0 808.9,336.0 808.7,341.0 807.4,346.0 806.2,350.9 804.3,355.1 803.0,358.0 815.7,357.4 828.4,356.7 841.1,355.9 853.8,355.0Z" fill="#D1FFBE"/>
<path d="M777.3,273.5 779.8,268.5 782.2,262.3 784.7,256.0 786.6,251.0 787.9,249.8 788.5,252.3 791.0,251.0 792.2,249.8 793.5,253.5 795.3,251.0 796.6,249.2 795.7,254.8 797.2,252.9 799.7,249.8 803.4,246.7 807.2,244.8 812.2,242.3 816.5,241.7 820.3,242.9 824.6,245.4 827.8,247.9 829.9,245.0 830.5,243.7 832.3,241.8 836.1,241.8 839.8,241.8 843.6,242.5 848.6,242.5 852.9,241.8 851.7,239.4 848.6,238.7 844.8,241.2 841.7,238.7 839.2,235.0 838.0,230.0 839.6,232.3 838.4,228.0 834.6,229.9 831.5,231.7 827.1,231.1 823.4,230.5 823.1,226.7 822.8,223.0 818.4,223.9 813.4,225.5 808.4,226.7 803.4,227.6 799.7,229.2 796.0,231.7 793.5,234.2 791.6,233.6 788.5,232.3 784.7,233.0 781.0,233.6 779.1,231.7 776.6,229.2 774.1,226.7 771.0,224.2 767.3,223.4 763.5,223.6 761.0,224.9 758.6,228.0 759.2,224.9 761.7,221.1 764.2,218.0 766.7,214.3 769.2,211.1 772.0,209.9 770.4,208.7 766.0,208.7 762.3,209.9 758.6,211.8 754.8,215.5 751.1,219.3 747.3,222.4 742.3,225.5 737.4,227.4 732.4,229.2 727.4,232.3 723.6,234.8 724.7,236.1 725.9,237.2 726.9,238.5 728.4,239.3 729.4,240.6 730.8,241.2 732.4,241.5 734.0,241.9 735.4,242.8 737.1,243.0 738.5,243.8 740.0,244.5 741.7,244.7 743.3,244.7 744.9,245.2 746.4,246.0 748.0,246.2 749.5,246.7 751.0,247.4 752.6,247.8 754.1,248.5 755.7,248.2 757.4,248.4 758.9,248.0 760.6,247.9 762.1,248.6 763.5,249.5 765.0,250.1 766.5,250.6 767.7,251.7 768.8,252.9 770.0,254.0 770.9,255.4 772.5,256.1 772.9,257.8 773.1,259.4 772.7,261.0 773.2,262.7 773.6,263.9 775.0,264.6 776.0,265.8 776.4,267.4 776.8,268.9 777.8,270.3 777.7,271.9Z" fill="#D1FFBE"/>
<path d="M924.3,339.7 917.4,342.8 911.2,348.5 902.4,354.4 894.9,358.1 887.4,360.6 881.2,361.0 876.2,358.7 871.2,356.2 867.5,355.0 866.5,354.0 853.8,355.0 841.1,355.9 845.8,426.9 847.4,426.7 849.0,426.1 850.8,426.1 852.0,427.3 853.7,427.7 854.9,428.9 856.3,429.6 857.5,430.8 858.0,432.5 859.6,433.3 861.3,433.3 862.9,433.5 864.4,434.5 866.2,434.3 867.4,435.6 868.8,436.3 870.4,436.6 871.9,436.5 873.5,436.2 875.1,435.3 876.7,435.8 878.3,436.1 879.9,436.3 881.4,435.4 883.0,434.9 884.3,434.1 885.5,432.8 887.2,432.4 887.5,434.0 888.3,435.5 889.7,436.4 891.0,437.3 892.0,438.7 893.4,439.6 894.7,440.6 896.5,440.0 897.9,439.3 898.7,437.9 900.0,436.9 900.7,435.5 901.6,434.1 901.7,432.5 901.7,430.8 901.3,429.3 901.7,427.8 902.3,426.2 903.6,425.2 904.0,423.2 905.8,423.6 907.4,424.2 907.9,422.6 909.1,421.5 909.3,419.8 909.6,418.3 909.8,416.6 911.2,415.7 911.9,414.1 913.2,413.1 914.2,411.8 915.8,411.6 917.3,411.1 918.4,409.9 920.0,409.3 921.0,408.0 922.1,406.7 923.2,405.6 924.5,404.5 924.7,402.9 925.7,401.5 926.2,400.1 926.5,398.5 926.8,396.9 926.6,395.2 927.4,393.7 927.2,392.0 927.4,390.4 927.6,388.8 928.3,387.2 927.9,385.6 928.3,384.0 928.6,382.4 928.3,380.8 927.3,379.4 927.6,377.8 928.0,376.2Z" fill="#FFFFBE"/>
<path d="M755.4,488.5 757.0,489.1 758.5,489.9 759.4,491.6 758.3,493.5 759.2,495.1 758.5,496.8 757.9,498.4 757.1,499.9 755.3,500.1 753.9,501.3 752.3,502.0 782.2,500.4 783.1,497.6 796.5,497.2 809.8,496.6 823.2,495.9 836.6,495.1 849.9,494.2 863.3,493.2 876.6,492.1 878.2,491.7 879.6,490.8 881.2,490.3 882.8,489.9 883.9,488.4 885.3,487.7 887.1,487.5 888.3,486.2 889.2,484.7 890.8,484.1 891.8,482.8 892.9,481.7 894.2,480.6 895.1,479.2 896.3,478.1 897.7,477.2 899.0,476.2 899.9,474.7 901.0,473.5 901.9,472.1 903.0,471.0 904.3,469.9 905.5,468.8 906.5,467.6 907.8,466.5 908.4,465.0 909.4,463.6 907.9,463.1 906.4,462.4 905.2,461.2 904.2,459.9 903.1,458.8 901.8,457.8 900.9,456.4 899.4,455.5 898.7,454.0 897.6,452.7 896.8,451.3 895.7,450.0 895.4,448.5 894.5,447.0 894.2,445.4 894.4,443.8 894.5,442.2 894.7,440.6 893.4,439.6 892.0,438.7 891.0,437.3 889.7,436.4 888.3,435.5 887.5,434.0 887.2,432.4 885.5,432.8 884.3,434.1 883.0,434.9 881.4,435.4 879.9,436.3 878.3,436.1 876.7,435.8 875.1,435.3 873.5,436.2 871.9,436.5 870.4,436.6 868.8,436.3 867.4,435.6 866.2,434.3 864.4,434.5 862.9,433.5 861.3,433.3 859.6,433.3 858.0,432.5 857.5,430.8 856.3,429.6 854.9,428.9 853.7,427.7 852.0,427.3 850.8,426.1 849.0,426.1 847.4,426.7 845.8,426.9 845.8,428.5 845.5,430.1 845.8,431.6 845.5,433.3 846.4,435.0 844.6,435.2 843.1,436.0 841.5,436.2 840.1,437.0 838.5,437.3 837.4,438.7 835.6,438.7 834.7,440.2 833.4,441.2 833.3,442.8 832.5,444.3 832.3,445.9 831.4,447.3 830.5,448.7 829.2,449.6 827.9,450.4 826.9,451.6 825.9,452.9 825.7,454.5 824.9,455.9 824.3,457.4 823.4,458.1 821.8,458.4 820.3,457.8 818.8,457.0 817.4,456.3 816.7,454.8 815.8,455.1 814.1,455.8 813.8,457.5 812.8,458.8 812.4,460.4 811.4,461.7 810.5,463.0 809.5,463.0 808.2,462.0 807.1,461.4 805.7,461.0 804.3,461.4 803.4,462.8 802.2,463.9 800.6,464.5 799.6,465.2 798.4,464.1 797.3,462.9 795.5,462.8 794.3,461.6 792.6,462.1 791.0,462.1 789.5,462.7 788.4,464.0 786.9,463.8 785.3,463.7 783.7,463.3 782.2,463.3 781.6,463.6 780.9,465.1 780.6,466.7 779.4,468.1 780.3,469.7 780.6,471.4 780.7,473.0 780.1,474.2 778.8,475.3 777.2,475.9 776.2,477.2 775.1,478.4 773.5,479.1 773.2,480.9 772.9,482.6 772.4,484.2 771.8,485.2 770.4,486.1 769.0,485.2 767.4,484.7 766.3,483.3 764.5,483.9 762.9,483.2 761.2,482.7 760.4,484.2 759.4,485.5 757.9,486.3 756.7,487.6Z" fill="#D1FFBE"/>
<path d="M752.3,502.0 751.1,503.1 750.4,504.6 750.3,506.3 748.5,507.4 748.2,509.0 748.2,510.7 747.9,512.3 747.6,513.9 746.2,515.0 745.2,516.6 745.2,518.4 745.6,519.9 745.6,521.7 743.8,522.6 743.9,524.4 742.9,525.7 742.4,527.3 740.6,528.1 740.8,530.1 740.6,531.5 739.3,532.9 738.5,534.3 738.5,536.0 738.8,537.7 738.2,539.3 738.7,540.9 738.8,542.5 751.6,542.4 764.4,542.1 777.3,541.8 782.5,541.6 790.1,541.3 802.9,540.7 815.8,540.0 828.6,539.2 838.7,538.4 841.4,538.2 854.2,537.2 866.9,536.0 867.0,535.0 867.1,533.4 866.4,531.7 867.5,530.2 868.2,529.0 869.7,528.1 870.1,526.3 872.0,525.9 872.5,524.1 873.9,523.1 874.4,521.3 876.3,521.4 877.4,519.8 879.0,519.5 880.3,518.4 882.1,518.4 883.3,517.2 885.0,516.8 885.8,515.0 887.5,514.6 888.9,513.9 890.5,513.3 891.1,511.3 892.8,511.0 894.6,510.9 895.7,509.6 897.0,508.7 898.3,507.9 899.9,507.3 901.3,506.8 902.7,506.0 903.9,504.9 905.5,504.6 907.1,504.2 908.6,503.5 909.3,501.8 910.8,500.8 912.5,500.7 913.9,499.9 914.4,498.4 915.8,497.3 916.4,495.8 917.8,495.0 919.1,493.9 918.6,492.1 919.4,490.6 919.4,488.9 919.6,487.4 915.6,487.9 902.9,489.1 890.2,490.2 878.2,491.7 876.6,492.1 863.3,493.2 849.9,494.2 836.6,495.1 823.2,495.9 809.8,496.6 796.5,497.2 783.1,497.6 782.2,500.4Z" fill="#D1FFBE"/>
<path d="M754.7,671.4 756.2,670.5 757.3,669.2 758.5,668.0 760.2,667.8 761.5,666.4 763.3,666.3 764.8,665.5 766.5,665.5 768.1,664.7 769.9,664.9 771.5,664.4 773.2,664.2 774.8,664.7 776.5,664.9 778.2,665.1 779.9,665.3 781.5,665.5 778.8,622.5 780.0,590.0 782.5,541.6 777.3,541.8 764.4,542.1 751.6,542.4 738.8,542.5 737.8,543.8 736.9,545.2 735.9,546.5 735.2,548.1 733.1,548.3 732.6,550.1 731.9,551.7 731.1,553.0 729.5,553.8 728.8,555.3 730.1,557.2 729.3,558.7 729.5,560.7 727.4,561.4 726.3,562.6 725.0,563.6 725.4,565.7 725.3,567.4 723.4,568.5 723.4,570.2 722.5,571.6 721.8,573.0 720.4,573.9 720.9,576.4 718.4,576.5 718.2,578.4 717.7,580.0 717.7,581.7 716.0,582.8 716.4,584.6 717.6,586.0 717.8,587.6 717.2,589.4 717.5,591.0 716.5,592.6 717.6,594.3 717.1,595.9 717.0,597.5 717.1,599.1 717.8,600.6 718.8,602.0 718.1,603.9 719.9,604.9 719.9,606.7 721.3,607.8 721.3,609.6 720.4,611.3 721.5,612.8 721.8,614.4 722.0,616.0 721.0,617.2 720.8,619.0 720.4,620.6 720.2,622.3 718.0,622.9 717.6,624.6 717.3,626.4 715.4,626.9 714.5,628.3 713.9,629.8 713.7,631.4 713.9,633.2 711.4,633.9 712.3,636.1 710.4,637.0 710.6,638.9 709.6,640.1 708.9,641.6 708.9,643.3 707.6,644.6 707.8,646.3 708.1,648.0 707.5,649.5 721.7,649.6 735.8,649.6 750.4,649.7 750.1,651.3 750.1,653.0 749.5,654.5 749.0,656.1 749.4,657.7 750.1,659.2 751.1,660.5 751.4,662.2 752.0,663.7 752.8,665.1 753.1,666.8 754.2,668.1 754.4,669.8Z" fill="#D1FFBE"/>
<path d="M781.5,665.5 783.0,666.3 784.5,666.5 786.2,666.6 787.5,665.6 788.3,664.2 789.5,662.9 789.7,661.3 790.1,659.7 790.3,658.0 790.5,656.4 790.9,654.8 791.4,655.4 791.9,657.0 792.3,658.6 792.5,660.3 793.0,661.8 793.4,663.4 794.4,664.7 795.1,666.3 796.8,666.5 798.5,667.0 800.0,666.2 801.7,666.2 803.2,665.3 804.6,664.5 805.0,662.8 805.0,661.1 805.2,659.3 805.1,657.6 804.6,655.8 803.2,654.7 802.3,653.2 801.3,651.8 800.7,650.1 800.2,648.5 814.5,646.9 829.0,646.2 843.5,645.4 859.9,644.6 859.4,643.1 859.1,641.5 858.8,639.9 858.6,638.3 858.3,636.7 858.0,635.1 857.7,633.5 857.5,632.0 857.2,630.4 856.9,628.8 856.6,627.2 856.4,625.6 856.2,624.0 856.0,622.4 855.9,620.8 855.8,619.2 855.6,617.6 855.6,616.0 856.4,614.6 857.2,613.1 857.9,611.7 858.7,610.3 859.4,608.9 858.8,607.4 858.1,606.0 857.3,604.6 856.6,603.1 856.0,601.6 855.6,600.1 855.3,598.5 854.9,596.9 854.5,595.4 854.1,593.8 853.7,592.3 853.3,590.7 852.9,589.1 852.5,587.6 852.1,586.0 851.7,584.4 851.3,582.9 850.9,581.3 850.5,579.7 850.1,578.2 849.7,576.6 849.3,575.1 848.9,573.5 848.5,571.9 848.1,570.4 847.7,568.8 847.2,567.3 846.8,565.7 846.4,564.1 846.0,562.6 845.6,561.0 845.2,559.5 844.7,557.9 844.2,556.4 843.7,554.8 843.2,553.3 842.7,551.8 842.2,550.2 841.7,548.7 841.2,547.2 840.7,545.6 840.2,544.1 839.7,542.6 839.2,541.0 838.7,538.4 828.6,539.2 815.8,540.0 802.9,540.7 790.1,541.3 782.5,541.6 780.0,590.0 778.8,622.5Z" fill="#D1FFBE"/>
<path d="M942.0,645.0 941.8,643.4 941.8,641.7 940.8,640.1 941.3,638.4 942.0,636.9 942.6,635.3 942.0,633.5 942.6,632.0 943.4,630.5 943.3,628.7 944.4,627.3 944.4,625.6 945.2,624.1 946.0,622.7 946.2,621.0 946.9,619.5 947.4,617.9 947.3,616.2 948.1,614.7 948.5,613.1 948.6,611.4 949.0,609.8 949.2,608.2 949.8,606.6 948.3,606.0 946.8,605.3 945.6,604.5 945.2,603.0 945.1,601.4 944.2,599.9 944.0,598.3 942.8,597.3 942.2,595.7 940.9,594.7 939.8,593.5 938.5,592.5 937.1,591.6 936.8,589.9 935.8,588.6 935.0,587.2 934.3,585.9 933.9,584.1 932.8,582.9 931.1,582.5 929.9,581.3 928.6,580.4 927.7,579.0 926.1,578.4 925.5,576.7 923.8,576.1 923.3,574.4 921.8,573.5 920.9,572.2 919.6,571.3 918.2,570.4 917.3,569.0 915.8,568.3 914.9,566.9 913.7,565.8 912.2,565.0 911.5,563.5 909.7,563.0 908.9,561.5 907.6,560.5 907.3,558.9 906.4,557.5 905.3,556.3 904.4,555.0 903.4,553.8 902.9,552.2 901.6,551.1 901.2,549.5 899.9,548.4 899.2,546.9 897.8,546.4 896.3,546.7 895.0,545.9 893.6,545.0 892.4,544.0 890.9,543.3 889.4,542.7 888.1,541.6 888.8,540.0 888.5,538.2 889.9,537.2 890.6,535.7 891.8,534.7 892.5,533.2 879.7,534.7 866.9,536.0 854.2,537.2 841.4,538.2 838.7,538.4 839.2,541.0 839.7,542.6 840.2,544.1 840.7,545.6 841.2,547.2 841.7,548.7 842.2,550.2 842.7,551.8 843.2,553.3 843.7,554.8 844.2,556.4 844.7,557.9 845.2,559.5 845.6,561.0 846.0,562.6 846.4,564.1 846.8,565.7 847.2,567.3 847.7,568.8 848.1,570.4 848.5,571.9 848.9,573.5 849.3,575.1 849.7,576.6 850.1,578.2 850.5,579.7 850.9,581.3 851.3,582.9 851.7,584.4 852.1,586.0 852.5,587.6 852.9,589.1 853.3,590.7 853.7,592.3 854.1,593.8 854.5,595.4 854.9,596.9 855.3,598.5 855.6,600.1 856.0,601.6 856.6,603.1 857.3,604.6 858.1,606.0 858.8,607.4 859.4,608.9 858.7,610.3 857.9,611.7 857.2,613.1 856.4,614.6 855.6,616.0 855.6,617.6 855.8,619.2 855.9,620.8 856.0,622.4 856.2,624.0 856.4,625.6 856.6,627.2 856.9,628.8 857.2,630.4 857.5,632.0 857.7,633.5 858.0,635.1 858.3,636.7 858.6,638.3 858.8,639.9 859.1,641.5 859.4,643.1 859.9,644.6 860.5,646.1 861.2,647.6 861.8,649.0 862.5,650.5 925.0,652.0 925.5,655.0 928.8,655.0 929.5,647.5 932.5,643.8Z" fill="#D1FFBE"/>
<path d="M804.6,664.5 806.6,663.5 808.2,663.2 809.7,663.0 811.3,662.4 812.9,662.5 814.5,662.7 816.0,663.4 817.6,663.3 819.2,663.7 820.7,663.4 822.3,663.1 823.9,663.0 825.6,663.1 827.1,662.6 828.7,662.2 830.3,662.6 831.9,662.2 833.5,662.7 835.1,662.9 836.3,663.9 837.5,665.1 839.1,665.5 840.5,666.3 842.0,666.9 843.4,667.7 845.0,667.9 846.3,668.9 847.5,670.0 848.9,670.7 850.1,671.8 851.4,672.7 852.2,674.1 852.6,675.7 853.7,677.0 854.6,678.3 855.9,679.2 857.4,679.7 858.8,679.6 860.5,679.7 862.0,678.9 863.6,678.8 864.9,678.0 866.5,677.5 867.6,676.1 869.3,675.8 870.6,674.8 871.5,673.5 872.6,672.3 873.9,671.3 874.9,670.1 876.1,669.0 877.6,668.4 879.0,667.6 880.4,666.8 881.8,666.4 883.4,666.3 884.9,667.1 886.5,667.2 888.1,667.5 889.4,668.2 890.7,669.2 891.8,670.3 893.4,670.9 894.6,672.0 895.7,673.2 896.9,674.3 897.9,675.5 898.9,676.8 900.2,677.7 901.1,679.1 902.3,680.1 903.0,681.6 904.2,682.8 905.3,683.9 905.7,685.5 906.8,686.8 907.7,688.1 908.3,689.6 909.5,690.7 910.5,692.0 911.7,693.0 912.6,694.3 913.5,694.6 913.6,693.1 913.7,691.5 914.5,692.4 915.2,693.9 916.3,695.1 917.1,696.5 917.5,698.0 918.1,699.5 918.4,701.1 919.2,702.5 919.1,704.2 919.4,705.8 919.8,707.3 919.7,708.9 919.8,710.5 920.0,712.1 919.8,713.7 919.1,715.2 918.3,716.6 917.5,718.0 917.7,719.7 917.3,721.3 917.0,722.8 916.8,724.4 917.6,725.9 918.1,727.4 918.9,728.8 919.5,730.3 920.2,731.7 920.7,733.2 921.6,734.6 922.0,736.1 922.7,737.6 923.1,739.2 924.3,740.1 925.6,740.7 926.9,741.7 927.9,743.0 929.1,744.1 930.0,745.3 930.8,746.7 931.7,748.0 932.2,749.6 933.2,750.8 933.7,752.4 934.2,753.9 934.9,755.4 935.8,756.7 936.6,758.1 937.3,759.5 938.3,759.2 939.6,758.3 940.8,757.8 941.7,759.2 942.7,760.4 943.2,761.9 944.3,763.2 944.9,764.7 945.5,766.1 946.2,767.6 946.7,769.1 947.4,770.6 948.1,772.0 949.3,773.0 950.2,774.3 951.6,775.1 953.1,775.8 954.4,776.8 956.0,777.2 956.8,778.7 958.0,779.7 959.1,780.9 959.6,782.5 960.9,783.6 961.4,785.1 961.8,786.7 962.6,788.1 963.0,789.6 964.0,790.9 965.0,792.0 966.6,792.5 967.9,793.2 969.5,793.3 971.1,793.2 972.7,793.0 974.4,793.1 975.7,792.0 977.4,792.0 978.7,791.2 980.1,790.3 981.1,789.0 982.2,787.9 982.9,786.4 983.5,785.0 984.4,783.6 984.8,782.0 985.3,780.5 985.5,778.9 985.8,777.4 986.0,775.8 986.6,774.2 986.3,772.6 986.6,771.0 986.7,769.4 987.3,767.8 986.9,766.2 987.0,764.6 987.0,763.0 987.0,761.4 986.9,759.8 987.0,758.2 986.9,756.6 986.2,755.1 986.3,753.5 986.1,751.9 986.0,750.3 985.7,748.7 985.5,747.1 985.0,745.6 984.9,744.0 984.5,742.4 984.0,741.3 982.9,740.2 982.5,738.6 981.6,737.3 981.3,735.7 980.2,734.4 979.6,732.9 979.0,731.5 978.5,729.9 977.5,728.6 977.3,727.0 976.6,725.5 976.1,724.0 975.3,722.6 974.6,721.2 974.1,719.6 973.3,718.2 972.4,716.9 972.2,715.2 971.0,714.0 970.5,712.5 969.8,711.0 969.1,709.6 968.7,708.0 969.1,706.5 969.4,704.9 969.8,703.4 969.6,701.9 968.4,700.8 967.2,699.7 966.2,698.5 964.8,697.6 964.2,696.1 963.2,694.8 962.7,693.3 961.6,692.0 961.1,690.5 959.9,689.3 959.5,687.7 958.6,686.3 957.7,685.0 957.2,683.5 956.3,682.1 955.5,680.8 954.6,679.4 954.1,677.9 953.1,676.6 952.3,675.2 951.9,673.6 951.1,672.2 950.7,670.6 949.6,669.4 948.8,668.0 948.2,666.5 947.9,664.9 947.0,663.5 947.0,661.8 946.0,660.5 945.8,658.9 945.0,657.4 944.3,656.0 944.2,654.3 943.7,652.8 943.5,651.2 942.9,649.7 942.7,648.1 942.5,646.5 942.0,645.0 932.5,643.8 929.5,647.5 928.8,655.0 925.5,655.0 925.0,652.0 862.5,650.5 861.8,649.0 861.2,647.6 860.5,646.1 859.9,644.6 843.5,645.4 829.0,646.2 814.5,646.9 800.2,648.5 800.7,650.1 801.3,651.8 802.3,653.2 803.2,654.7 804.6,655.8 805.1,657.6 805.2,659.3 805.0,661.1 805.0,662.8Z" fill="#FFFFBE"/>
<path d="M949.8,606.6 950.7,605.2 951.5,603.8 952.2,602.3 953.0,600.9 954.0,599.6 954.7,598.0 956.3,597.4 957.6,596.5 958.8,595.3 960.3,594.6 961.8,594.0 962.8,592.5 964.2,591.7 965.6,590.9 967.2,590.3 968.1,588.7 969.8,588.3 970.7,586.9 971.6,585.5 973.0,584.6 974.1,583.4 974.7,581.7 976.2,580.9 977.5,579.8 978.6,578.7 979.1,576.9 980.5,576.0 981.5,574.7 983.0,573.9 983.9,572.6 984.5,571.0 985.0,569.5 986.4,568.3 986.5,566.6 986.9,565.0 987.4,563.5 987.7,561.8 988.6,560.4 989.5,559.1 990.0,557.5 991.2,556.3 992.2,555.0 993.5,554.0 994.6,552.8 996.0,552.0 997.2,550.9 969.2,529.6 954.8,531.2 944.8,532.2 944.2,529.9 941.1,526.8 938.6,526.2 937.4,524.3 927.4,524.7 917.4,525.3 907.5,526.6 900.0,530.0 892.5,533.2 891.8,534.7 890.6,535.7 889.9,537.2 888.5,538.2 888.8,540.0 888.1,541.6 889.4,542.7 890.9,543.3 892.4,544.0 893.6,545.0 895.0,545.9 896.3,546.7 897.8,546.4 899.2,546.9 899.9,548.4 901.2,549.5 901.6,551.1 902.9,552.2 903.4,553.8 904.4,555.0 905.3,556.3 906.4,557.5 907.3,558.9 907.6,560.5 908.9,561.5 909.7,563.0 911.5,563.5 912.2,565.0 913.7,565.8 914.9,566.9 915.8,568.3 917.3,569.0 918.2,570.4 919.6,571.3 920.9,572.2 921.8,573.5 923.3,574.4 923.8,576.1 925.5,576.7 926.1,578.4 927.7,579.0 928.6,580.4 929.9,581.3 931.1,582.5 932.8,582.9 933.9,584.1 934.3,585.9 935.0,587.2 935.8,588.6 936.8,589.9 937.1,591.6 938.5,592.5 939.8,593.5 940.9,594.7 942.2,595.7 942.8,597.3 944.0,598.3 944.2,599.9 945.1,601.4 945.2,603.0 945.6,604.5 946.8,605.3 948.3,606.0Z" fill="#FFFFBE"/>
<path d="M997.2,550.9 1001.1,549.7 1006.1,549.1 1011.1,549.7 1010.8,547.2 1011.7,542.2 1014.2,536.6 1017.3,532.3 1021.1,528.5 1026.1,525.4 1031.0,523.5 1036.0,522.9 1040.4,524.2 1042.3,519.8 1044.8,516.1 1047.9,512.3 1051.6,508.6 1056.0,504.8 1059.7,502.3 1059.1,496.1 1056.6,489.9 1053.5,484.3 1049.8,478.7 1046.6,473.7 1043.5,469.3 1029.1,471.7 1016.5,473.9 1004.0,476.1 991.4,478.1 978.8,480.0 966.2,481.8 953.6,483.5 940.9,485.1 928.3,486.5 919.6,487.4 919.4,488.9 919.4,490.6 918.6,492.1 919.1,493.9 917.8,495.0 916.4,495.8 915.8,497.3 914.4,498.4 913.9,499.9 912.5,500.7 910.8,500.8 909.3,501.8 908.6,503.5 907.1,504.2 905.5,504.6 903.9,504.9 902.7,506.0 901.3,506.8 899.9,507.3 898.3,507.9 897.0,508.7 895.7,509.6 894.6,510.9 892.8,511.0 891.1,511.3 890.5,513.3 888.9,513.9 887.5,514.6 885.8,515.0 885.0,516.8 883.3,517.2 882.1,518.4 880.3,518.4 879.0,519.5 877.4,519.8 876.3,521.4 874.4,521.3 873.9,523.1 872.5,524.1 872.0,525.9 870.1,526.3 869.7,528.1 868.2,529.0 867.5,530.2 866.4,531.7 867.1,533.4 867.0,535.0 866.9,536.0 879.7,534.7 892.5,533.2 900.0,530.0 907.5,526.6 917.4,525.3 927.4,524.7 937.4,524.3 938.6,526.2 941.1,526.8 944.2,529.9 944.8,532.2 954.8,531.2 969.2,529.6Z" fill="#FFFFBE"/>
<path d="M1043.5,469.3 1042.9,466.2 1041.6,462.4 1040.4,460.0 1037.3,460.6 1034.8,460.0 1033.5,456.2 1032.3,451.2 1031.7,446.2 1031.4,443.6 1030.5,440.6 1029.6,437.5 1029.3,434.4 1025.9,432.5 1022.2,431.0 1018.5,430.1 1014.8,428.5 1012.3,427.6 1009.2,426.0 1006.1,425.7 1007.0,424.6 1006.3,423.2 1006.3,421.8 1006.8,420.2 1008.0,419.0 1009.0,417.7 1010.3,416.7 1010.7,415.3 1011.2,413.7 1011.3,412.2 1010.0,411.2 1009.3,409.6 1007.5,409.3 1006.2,408.3 1004.6,408.0 1003.2,407.0 1001.7,406.5 1000.0,406.0 998.9,404.8 997.7,403.7 996.1,403.2 995.1,401.8 993.8,400.8 992.3,400.2 990.9,399.3 991.5,400.8 991.8,402.3 991.7,403.9 991.2,405.5 990.3,405.4 988.7,404.9 987.3,404.2 986.3,402.8 984.6,402.4 983.0,401.9 981.9,400.7 980.4,401.2 978.6,401.2 979.0,403.1 977.8,404.4 977.8,406.1 976.9,407.4 976.0,408.8 975.6,410.4 974.8,411.8 973.7,412.9 973.0,414.4 971.8,415.6 971.7,417.4 970.1,418.1 969.3,419.7 968.0,420.6 967.4,422.1 966.7,423.5 966.3,425.1 965.7,426.6 964.6,427.8 963.8,429.3 962.9,430.6 961.7,430.7 960.2,430.4 958.7,429.8 957.6,428.5 956.2,429.3 955.0,430.4 954.8,432.0 954.5,433.6 954.0,435.1 953.9,436.8 953.2,438.3 952.9,439.9 951.6,441.0 951.5,442.8 950.4,444.0 950.3,445.8 948.9,446.9 948.5,448.5 947.4,449.7 947.5,451.5 946.4,452.8 946.2,454.5 945.6,456.0 945.2,457.6 943.9,458.7 942.1,458.7 940.8,459.8 939.2,459.9 937.7,460.5 936.1,460.9 935.0,462.1 933.2,462.5 932.5,464.1 930.9,464.1 929.3,464.8 927.7,465.0 926.5,466.2 925.0,466.7 923.5,467.4 921.8,467.5 920.3,468.2 919.3,469.5 917.7,469.9 916.1,470.6 914.8,469.3 913.5,468.4 912.1,467.7 911.3,466.2 910.2,465.0 909.4,463.6 908.4,465.0 907.8,466.5 906.5,467.6 905.5,468.8 904.3,469.9 903.0,471.0 901.9,472.1 901.0,473.5 899.9,474.7 899.0,476.2 897.7,477.2 896.3,478.1 895.1,479.2 894.2,480.6 892.9,481.7 891.8,482.8 890.8,484.1 889.2,484.7 888.3,486.2 887.1,487.5 885.3,487.7 883.9,488.4 882.8,489.9 881.2,490.3 879.6,490.8 878.2,491.7 890.2,490.2 902.9,489.1 915.6,487.9 919.6,487.4 928.3,486.5 940.9,485.1 953.6,483.5 966.2,481.8 978.8,480.0 991.4,478.1 1004.0,476.1 1016.5,473.9 1029.1,471.7Z" fill="#FFFFBE"/>
<path d="M1039.8,431.0 1041.3,433.1 1041.0,436.2 1040.4,439.3 1039.4,442.4 1038.8,445.0 1039.2,450.0 1040.0,455.6 1041.0,451.2 1041.6,446.2 1042.9,441.2 1045.0,442.4 1045.6,439.3 1046.5,436.2 1047.5,433.8 1048.7,431.3 1049.2,429.3Z" fill="#FFFFBE"/>
<path d="M928.0,376.2 927.6,377.8 927.3,379.4 928.3,380.8 928.6,382.4 928.3,384.0 927.9,385.6 928.3,387.2 927.6,388.8 927.4,390.4 927.2,392.0 927.4,393.7 926.6,395.2 926.8,396.9 926.5,398.5 926.2,400.1 925.7,401.5 924.7,402.9 924.5,404.5 923.2,405.6 922.1,406.7 921.0,408.0 920.0,409.3 918.4,409.9 917.3,411.1 915.8,411.6 914.2,411.8 913.2,413.1 911.9,414.1 911.2,415.7 909.8,416.6 909.6,418.3 909.3,419.8 909.1,421.5 907.9,422.6 907.4,424.2 905.8,423.6 904.0,423.2 903.6,425.2 902.3,426.2 901.7,427.8 901.3,429.3 901.7,430.8 901.7,432.5 901.6,434.1 900.7,435.5 900.0,436.9 898.7,437.9 897.9,439.3 896.5,440.0 894.7,440.6 894.5,442.2 894.4,443.8 894.2,445.4 894.5,447.0 895.4,448.5 895.7,450.0 896.8,451.3 897.6,452.7 898.7,454.0 899.4,455.5 900.9,456.4 901.8,457.8 903.1,458.8 904.2,459.9 905.2,461.2 906.4,462.4 907.9,463.1 909.4,463.6 910.2,465.0 911.3,466.2 912.1,467.7 913.5,468.4 914.8,469.3 916.1,470.6 917.7,469.9 919.3,469.5 920.3,468.2 921.8,467.5 923.5,467.4 925.0,466.7 926.5,466.2 927.7,465.0 929.3,464.8 930.9,464.1 932.5,464.1 933.2,462.5 935.0,462.1 936.1,460.9 937.7,460.5 939.2,459.9 940.8,459.8 942.1,458.7 943.9,458.7 945.2,457.6 945.6,456.0 946.2,454.5 946.4,452.8 947.5,451.5 947.4,449.7 948.5,448.5 948.9,446.9 950.3,445.8 950.4,444.0 951.5,442.8 951.6,441.0 952.9,439.9 953.2,438.3 953.9,436.8 954.0,435.1 954.5,433.6 954.8,432.0 955.0,430.4 956.2,429.3 957.6,428.5 958.7,429.8 960.2,430.4 961.7,430.7 962.9,430.6 963.8,429.3 964.6,427.8 965.7,426.6 966.3,425.1 966.7,423.5 967.4,422.1 968.0,420.6 969.3,419.7 970.1,418.1 971.7,417.4 971.8,415.6 973.0,414.4 973.7,412.9 974.8,411.8 975.6,410.4 976.0,408.8 976.9,407.4 977.8,406.1 977.8,404.4 979.0,403.1 978.6,401.2 980.4,401.2 981.9,400.7 983.0,401.9 984.6,402.4 986.3,402.8 987.3,404.2 988.7,404.9 990.3,405.4 991.2,405.5 991.7,403.9 991.8,402.3 991.5,400.8 990.9,399.3 989.7,398.1 988.8,396.7 987.3,396.0 985.8,395.3 984.2,394.8 982.6,394.2 981.0,394.5 979.6,395.4 978.0,396.1 976.6,396.8 975.4,397.9 973.9,398.6 972.1,398.3 971.1,399.8 969.9,399.9 968.4,399.4 967.1,400.2 965.8,401.3 964.6,402.5 963.5,403.6 962.4,404.9 961.0,405.9 960.0,407.2 958.8,408.4 957.5,409.4 956.3,410.5 957.6,396.9 945.2,398.5 932.9,399.9 929.3,376.9Z" fill="#D1FFBE"/>
<path d="M938.6,330.4 931.1,334.1 924.3,339.7 928.0,376.2 929.3,376.9 932.9,399.9 945.2,398.5 957.6,396.9 969.9,395.1 982.1,393.2 994.4,391.2 1006.6,389.0 1018.8,386.7 1031.0,383.9 1032.3,381.7 1034.8,380.2 1037.3,381.1 1037.9,379.6 1039.0,378.5 1040.1,377.2 1041.7,376.6 1042.5,375.1 1043.7,373.9 1045.1,373.1 1046.1,371.7 1047.6,370.9 1048.4,369.5 1049.6,368.3 1050.0,367.1 1049.3,365.7 1048.0,364.6 1046.9,363.3 1045.6,362.4 1044.1,361.5 1043.3,360.0 1041.8,359.2 1041.0,357.7 1039.8,356.6 1038.6,355.5 1038.3,353.9 1038.4,352.3 1038.0,350.7 1038.4,349.1 1038.8,347.5 1039.3,346.0 1039.9,344.4 1040.8,343.0 1041.5,341.6 1042.0,340.0 1042.4,338.4 1042.9,336.9 1042.1,335.3 1041.3,333.8 1040.3,332.5 1038.7,332.0 1037.1,331.4 1035.8,330.5 1034.8,329.1 1034.3,327.5 1033.5,326.0 1032.3,324.7 1031.3,323.4 1029.8,322.6 1028.4,321.6 1015.8,324.0 1003.1,326.4 990.4,328.6 977.8,330.8 965.1,332.8 952.3,334.8 939.6,336.6Z" fill="#FFFFBE"/>
<path d="M1062.2,341.8 1062.2,340.8 1064.9,339.8 1065.6,339.0 1068.1,336.0 1067.7,331.0 1066.8,324.8 1065.6,317.3 1064.3,309.9 1063.9,299.9 1063.1,291.1 1061.8,282.4 1060.0,274.9 1058.1,270.0 1055.6,267.5 1054.3,261.2 1053.1,255.0 1051.8,250.0 1051.8,247.2 1050.6,242.2 1048.7,237.2 1047.5,232.3 1040.0,234.1 1033.4,235.0 1027.1,236.9 1020.9,238.7 1016.5,241.2 1012.2,245.6 1008.4,250.0 1005.9,253.7 1004.7,257.4 1002.8,261.2 999.7,263.7 997.8,267.4 996.0,271.1 997.2,273.6 1000.3,274.9 1001.6,278.6 1000.3,282.4 997.2,285.5 993.5,288.6 989.7,291.1 984.7,293.0 979.8,294.8 976.0,296.1 972.3,295.5 967.3,296.1 959.8,296.7 953.6,298.6 948.0,301.1 948.0,303.6 949.2,307.3 952.3,308.6 953.6,311.0 951.7,314.8 948.0,319.2 943.6,324.8 938.6,330.4 939.6,336.6 952.3,334.8 965.1,332.8 977.8,330.8 990.4,328.6 1003.1,326.4 1015.8,324.0 1028.4,321.6 1029.8,322.6 1031.3,323.4 1032.3,324.7 1033.5,326.0 1034.3,327.5 1034.8,329.1 1035.8,330.5 1037.1,331.4 1038.7,332.0 1040.3,332.5 1041.3,333.8 1042.1,335.3 1042.9,336.9Z" fill="#A80000"/>
<path d="M1037.3,381.1 1037.9,384.9 1039.2,388.6 1042.3,391.1 1045.4,393.0 1049.1,394.8 1051.6,394.2 1052.5,398.0 1052.9,401.1 1054.7,398.6 1057.2,393.6 1059.7,388.6 1062.2,383.6 1064.1,378.6 1065.0,373.6 1064.7,368.7 1064.1,363.7 1062.8,358.7 1061.0,356.8 1059.1,354.9 1060.3,350.0 1061.6,346.2 1062.2,341.8 1042.9,336.9 1042.4,338.4 1042.0,340.0 1041.5,341.6 1040.8,343.0 1039.9,344.4 1039.3,346.0 1038.8,347.5 1038.4,349.1 1038.0,350.7 1038.4,352.3 1038.3,353.9 1038.6,355.5 1039.8,356.6 1041.0,357.7 1041.8,359.2 1043.3,360.0 1044.1,361.5 1045.6,362.4 1046.9,363.3 1048.0,364.6 1049.3,365.7 1050.0,367.1 1049.6,368.3 1048.4,369.5 1047.6,370.9 1046.1,371.7 1045.1,373.1 1043.7,373.9 1042.5,375.1 1041.7,376.6 1040.1,377.2 1039.0,378.5 1037.9,379.6Z" fill="#FFAA00"/>
<path d="M1006.1,425.7 1007.7,425.6 1009.2,425.0 1010.8,424.5 1012.4,424.7 1013.8,425.6 1015.6,425.4 1017.0,426.0 1018.4,426.9 1020.0,427.3 1021.5,428.2 1023.2,427.5 1024.7,427.8 1026.3,428.4 1027.0,427.3 1027.4,425.9 1026.0,424.8 1025.7,423.1 1024.3,422.1 1023.2,420.9 1023.1,419.0 1022.2,417.7 1020.8,416.6 1020.2,415.1 1020.2,413.4 1019.8,411.8 1019.5,410.2 1018.6,408.8 1018.7,407.1 1017.6,405.7 1018.5,404.1 1017.7,402.6 1016.9,401.2 1016.1,399.7 1017.3,398.4 1018.5,397.2 1019.8,396.4 1021.0,395.3 1022.1,394.1 1023.2,393.1 1024.3,391.9 1026.3,391.8 1027.1,390.3 1028.6,389.6 1029.1,390.7 1028.7,392.2 1028.5,393.9 1026.9,394.9 1026.5,396.5 1025.6,397.8 1025.9,399.1 1027.0,400.1 1028.2,399.6 1028.8,400.3 1028.5,401.9 1026.7,402.8 1025.3,403.8 1025.0,405.5 1024.5,407.2 1026.0,408.2 1027.2,409.3 1028.8,409.6 1029.9,411.1 1031.2,411.7 1031.9,413.0 1031.1,414.2 1030.1,415.3 1028.7,416.2 1027.7,416.7 1027.2,418.2 1028.1,419.4 1028.9,421.1 1030.7,421.3 1032.2,421.7 1033.2,421.3 1035.1,420.9 1035.6,419.1 1036.7,418.8 1036.5,420.5 1038.0,421.6 1037.8,423.5 1038.6,424.9 1039.0,426.2 1039.2,427.8 1039.3,429.4 1039.8,431.0 1049.2,429.3 1049.6,428.8 1050.6,425.7 1051.5,422.7 1052.4,419.6 1052.7,415.9 1052.5,414.6 1039.1,417.4 1031.0,383.9 1018.8,386.7 1006.6,389.0 994.4,391.2 982.1,393.2 969.9,395.1 957.6,396.9 956.3,410.5 957.5,409.4 958.8,408.4 960.0,407.2 961.0,405.9 962.4,404.9 963.5,403.6 964.6,402.5 965.8,401.3 967.1,400.2 968.4,399.4 969.9,399.9 971.1,399.8 972.1,398.3 973.9,398.6 975.4,397.9 976.6,396.8 978.0,396.1 979.6,395.4 981.0,394.5 982.6,394.2 984.2,394.8 985.8,395.3 987.3,396.0 988.8,396.7 989.7,398.1 990.9,399.3 992.3,400.2 993.8,400.8 995.1,401.8 996.1,403.2 997.7,403.7 998.9,404.8 1000.0,406.0 1001.7,406.5 1003.2,407.0 1004.6,408.0 1006.2,408.3 1007.5,409.3 1009.3,409.6 1010.0,411.2 1011.3,412.2 1011.2,413.7 1010.7,415.3 1010.3,416.7 1009.0,417.7 1008.0,419.0 1006.8,420.2 1006.3,421.8 1006.3,423.2 1007.0,424.6Z" fill="#FFAA00"/>
<path d="M1052.5,414.6 1052.7,412.8 1052.1,409.7 1050.9,406.6 1049.3,405.4 1046.9,404.1 1044.4,402.3 1042.5,399.2 1041.0,396.1 1039.4,393.0 1037.0,389.9 1035.7,386.9 1035.1,385.0 1037.0,385.5 1037.3,381.1 1034.8,380.2 1032.3,381.7 1031.0,383.9 1039.1,417.4Z" fill="#FFAA00"/>
<path d="M1065.6,339.0 1069.3,336.0 1073.0,333.5 1077.4,331.7 1082.4,329.8 1087.4,327.9 1092.4,326.1 1097.4,324.2 1101.7,322.3 1099.9,312.3 1098.0,304.2 1077.4,307.4 1064.3,309.9 1065.6,317.3 1066.8,324.8 1067.7,331.0 1068.1,336.0Z" fill="#FFAA00"/>
<path d="M1101.7,322.3 1104.8,321.1 1108.0,319.2 1109.2,316.1 1109.8,312.3 1111.7,313.6 1113.6,312.0 1109.8,309.9 1108.0,306.1 1107.3,301.4 1098.0,304.2 1099.9,312.3Z" fill="#FFAA00"/>
<path d="M1113.6,312.0 1116.1,311.1 1117.9,310.5 1119.8,308.6 1121.7,307.6 1124.3,307.9 1125.5,308.7 1127.5,307.5 1128.7,306.4 1130.3,305.9 1131.9,304.7 1133.9,303.5 1135.9,302.2 1136.8,303.5 1137.6,305.5 1137.8,302.2 1137.5,299.9 1136.5,297.5 1135.5,295.5 1134.3,293.9 1132.6,292.9 1131.1,293.1 1129.2,293.1 1128.5,293.9 1129.9,294.6 1131.5,294.3 1133.0,294.8 1134.3,296.1 1135.1,298.0 1135.5,300.1 1134.6,300.9 1133.5,301.4 1131.5,302.9 1129.5,303.6 1127.2,303.2 1124.7,303.6 1123.3,303.0 1121.7,299.9 1119.8,298.0 1116.7,294.9 1113.6,292.4 1110.4,291.1 1111.1,288.7 1112.3,286.2 1114.8,283.7 1117.3,281.2 1116.1,279.9 1113.6,278.7 1111.1,278.1 1108.0,276.8 1104.8,279.3 1102.3,281.8 1094.9,283.4 1078.0,287.4 1063.1,291.1 1063.9,299.9 1064.3,309.9 1077.4,307.4 1098.0,304.2 1107.3,301.4 1108.0,306.1 1109.8,309.9Z" fill="#A80000"/>
<path d="M1081.8,222.9 1047.5,232.3 1048.7,237.2 1050.6,242.2 1051.8,247.2 1051.8,250.0 1053.1,255.0 1054.3,261.2 1055.6,267.5 1058.1,270.0 1060.0,274.9 1061.8,282.4 1063.1,291.1 1078.0,287.4 1077.8,285.8 1077.3,284.2 1077.6,282.6 1077.2,281.0 1077.1,279.4 1076.5,277.8 1077.0,276.1 1076.6,274.5 1076.5,272.9 1076.0,271.3 1076.2,269.7 1076.3,268.1 1075.7,266.5 1075.8,264.9 1075.5,263.3 1075.7,261.6 1075.9,260.0 1076.0,258.4 1076.5,256.9 1076.7,255.2 1077.9,254.2 1078.3,253.0 1078.0,251.4 1077.8,249.8 1077.6,248.2 1077.1,246.6 1077.6,245.0 1077.8,243.4 1079.1,242.4 1079.9,241.0 1080.9,239.7 1082.0,238.5 1083.1,237.3 1083.6,235.7 1083.6,234.0 1083.2,232.5 1083.1,230.9 1082.5,229.3 1082.1,227.8 1082.3,226.1 1081.8,224.5Z" fill="#FFAA00"/>
<path d="M1113.6,278.7 1111.7,273.7 1109.8,270.0 1109.2,267.5 1107.3,263.7 1104.8,260.0 1103.0,255.0 1102.3,253.5 1099.9,244.7 1096.1,233.5 1092.4,222.3 1088.6,212.9 1085.5,213.6 1083.0,214.8 1082.4,219.8 1081.8,222.9 1081.8,224.5 1082.3,226.1 1082.1,227.8 1082.5,229.3 1083.1,230.9 1083.2,232.5 1083.6,234.0 1083.6,235.7 1083.1,237.3 1082.0,238.5 1080.9,239.7 1079.9,241.0 1079.1,242.4 1077.8,243.4 1077.6,245.0 1077.1,246.6 1077.6,248.2 1077.8,249.8 1078.0,251.4 1078.3,253.0 1077.9,254.2 1076.7,255.2 1076.5,256.9 1076.0,258.4 1075.9,260.0 1075.7,261.6 1075.5,263.3 1075.8,264.9 1075.7,266.5 1076.3,268.1 1076.2,269.7 1076.0,271.3 1076.5,272.9 1076.6,274.5 1077.0,276.1 1076.5,277.8 1077.1,279.4 1077.2,281.0 1077.6,282.6 1077.3,284.2 1077.8,285.8 1078.0,287.4 1094.9,283.4 1102.3,281.8 1104.8,279.3 1108.0,276.8 1111.1,278.1Z" fill="#FFAA00"/>
<path d="M1109.8,270.0 1110.9,268.7 1111.4,267.2 1111.4,265.4 1114.0,264.8 1113.2,262.7 1113.4,261.1 1116.0,260.2 1114.2,258.1 1115.5,256.7 1116.2,255.3 1116.2,254.2 1116.9,252.8 1118.0,251.4 1118.1,249.7 1119.6,249.2 1119.9,247.1 1120.7,245.5 1123.0,245.8 1123.4,243.7 1125.7,243.8 1126.0,241.8 1127.5,241.0 1128.0,239.2 1130.3,239.2 1130.8,237.4 1130.9,235.5 1133.4,235.1 1132.1,232.6 1133.2,231.3 1134.5,230.2 1135.2,228.7 1135.0,227.0 1135.7,225.5 1135.1,223.8 1136.0,222.1 1135.9,224.2 1138.2,224.7 1139.3,225.9 1139.6,226.9 1140.6,225.6 1141.9,224.5 1142.3,222.9 1142.7,221.3 1144.4,221.0 1145.3,221.9 1146.8,221.2 1147.2,219.3 1148.2,218.0 1148.5,216.2 1150.3,215.5 1151.5,216.4 1152.4,216.5 1154.1,216.3 1155.6,215.6 1155.6,213.5 1157.9,213.7 1158.7,211.9 1160.3,211.3 1160.6,209.6 1162.4,209.1 1163.6,208.1 1163.9,205.8 1165.3,205.1 1167.3,204.6 1167.3,202.6 1168.2,201.2 1169.1,199.8 1166.6,197.3 1164.7,194.9 1161.6,193.0 1158.5,193.6 1156.6,191.1 1154.7,187.4 1154.1,184.3 1151.6,183.6 1148.5,183.0 1146.6,181.1 1145.7,176.1 1144.1,171.2 1142.2,166.2 1140.4,161.2 1138.5,156.2 1136.6,151.2 1135.4,147.5 1132.3,145.0 1128.5,143.1 1124.8,141.9 1121.0,142.5 1117.9,145.0 1114.8,147.5 1111.7,149.3 1109.2,148.7 1108.0,145.6 1106.1,144.4 1104.2,145.6 1103.0,150.0 1101.7,155.0 1100.5,159.9 1099.2,164.9 1098.0,169.9 1097.4,174.9 1095.9,179.9 1096.7,184.9 1097.4,189.9 1096.7,194.9 1094.9,198.6 1094.2,203.0 1094.9,206.7 1093.0,208.6 1091.1,211.1 1088.6,212.9 1092.4,222.3 1096.1,233.5 1099.9,244.7 1102.3,253.5 1103.0,255.0 1104.8,260.0 1107.3,263.7 1109.2,267.5Z" fill="#FFAA00"/>
</g>
<g stroke-linejoin="round" stroke-linecap="round"><polyline points="738.8,542.5 737.8,543.8 736.9,545.2 735.9,546.5 735.2,548.1 733.1,548.3 732.6,550.1 731.9,551.7 731.1,553.0 729.5,553.8 728.8,555.3 730.1,557.2 729.3,558.7 729.5,560.7 727.4,561.4 726.3,562.6 725.0,563.6 725.4,565.7 725.3,567.4 723.4,568.5 723.4,570.2 722.5,571.6 721.8,573.0 720.4,573.9 720.9,576.4 718.4,576.5 718.2,578.4 717.7,580.0 717.7,581.7 716.0,582.8 716.4,584.6 717.6,586.0 717.8,587.6 717.2,589.4 717.5,591.0 716.5,592.6 717.6,594.3 717.1,595.9 717.0,597.5" fill="none" stroke="#6e6e6e" stroke-width="1.5"/>
<polyline points="717.0,597.5 717.1,599.1 717.8,600.6 718.8,602.0 718.1,603.9 719.9,604.9 719.9,606.7 721.3,607.8 721.3,609.6 720.4,611.3 721.5,612.8 721.8,614.4 722.0,616.0 721.0,617.2 720.8,619.0 720.4,620.6 720.2,622.3 718.0,622.9 717.6,624.6 717.3,626.4 715.4,626.9 714.5,628.3 713.9,629.8 713.7,631.4 713.9,633.2 711.4,633.9 712.3,636.1 710.4,637.0 710.6,638.9 709.6,640.1 708.9,641.6 708.9,643.3 707.6,644.6 707.8,646.3 708.1,648.0 707.5,649.5" fill="none" stroke="#6e6e6e" stroke-width="1.5"/>
<polyline points="752.3,502.0 751.1,503.1 750.4,504.6 750.3,506.3 748.5,507.4 748.2,509.0 748.2,510.7 747.9,512.3 747.6,513.9 746.2,515.0 745.2,516.6 745.2,518.4 745.6,519.9 745.6,521.7 743.8,522.6 743.9,524.4 742.9,525.7 742.4,527.3 740.6,528.1 740.8,530.1 740.6,531.5 739.3,532.9 738.5,534.3 738.5,536.0 738.8,537.7 738.2,539.3 738.7,540.9 738.8,542.5" fill="none" stroke="#6e6e6e" stroke-width="1.4"/>
<polyline points="755.4,488.5 757.0,489.1 758.5,489.9 759.4,491.6 758.3,493.5 759.2,495.1 758.5,496.8 757.9,498.4 757.1,499.9 755.3,500.1 753.9,501.3 752.3,502.0" fill="none" stroke="#6e6e6e" stroke-width="1.3"/>
<polyline points="942.0,645.0 941.8,643.4 941.8,641.7 940.8,640.1 941.3,638.4 942.0,636.9 942.6,635.3 942.0,633.5 942.6,632.0 943.4,630.5 943.3,628.7 944.4,627.3 944.4,625.6 945.2,624.1 946.0,622.7 946.2,621.0 946.9,619.5 947.4,617.9 947.3,616.2 948.1,614.7 948.5,613.1 948.6,611.4 949.0,609.8 949.2,608.2 949.8,606.6" fill="none" stroke="#6e6e6e" stroke-width="1.7"/>
<polyline points="949.8,606.6 950.7,605.2 951.5,603.8 952.2,602.3 953.0,600.9 954.0,599.6 954.7,598.0 956.3,597.4 957.6,596.5 958.8,595.3 960.3,594.6 961.8,594.0 962.8,592.5 964.2,591.7 965.6,590.9 967.2,590.3 968.1,588.7 969.8,588.3 970.7,586.9 971.6,585.5 973.0,584.6 974.1,583.4 974.7,581.7 976.2,580.9 977.5,579.8 978.6,578.7 979.1,576.9 980.5,576.0 981.5,574.7 983.0,573.9 983.9,572.6 984.5,571.0 985.0,569.5 986.4,568.3 986.5,566.6 986.9,565.0 987.4,563.5 987.7,561.8 988.6,560.4 989.5,559.1 990.0,557.5 991.2,556.3 992.2,555.0 993.5,554.0 994.6,552.8 996.0,552.0 997.2,550.9" fill="none" stroke="#6e6e6e" stroke-width="1.5"/>
<polyline points="1006.1,425.7 1007.7,425.6 1009.2,425.0 1010.8,424.5 1012.4,424.7 1013.8,425.6 1015.6,425.4 1017.0,426.0 1018.4,426.9 1020.0,427.3 1021.5,428.2 1023.2,427.5 1024.7,427.8 1026.3,428.4 1027.0,427.3 1027.4,425.9 1026.0,424.8 1025.7,423.1 1024.3,422.1 1023.2,420.9 1023.1,419.0 1022.2,417.7 1020.8,416.6 1020.2,415.1 1020.2,413.4 1019.8,411.8 1019.5,410.2 1018.6,408.8 1018.7,407.1 1017.6,405.7 1018.5,404.1 1017.7,402.6 1016.9,401.2 1016.1,399.7 1017.3,398.4 1018.5,397.2 1019.8,396.4 1021.0,395.3 1022.1,394.1 1023.2,393.1 1024.3,391.9 1026.3,391.8 1027.1,390.3 1028.6,389.6 1029.1,390.7 1028.7,392.2 1028.5,393.9 1026.9,394.9 1026.5,396.5 1025.6,397.8 1025.9,399.1 1027.0,400.1 1028.2,399.6 1028.8,400.3 1028.5,401.9 1026.7,402.8 1025.3,403.8 1025.0,405.5 1024.5,407.2 1026.0,408.2 1027.2,409.3 1028.8,409.6 1029.9,411.1 1031.2,411.7 1031.9,413.0 1031.1,414.2 1030.1,415.3 1028.7,416.2 1027.7,416.7 1027.2,418.2 1028.1,419.4 1028.9,421.1 1030.7,421.3 1032.2,421.7 1033.2,421.3 1035.1,420.9 1035.6,419.1 1036.7,418.8 1036.5,420.5 1038.0,421.6 1037.8,423.5 1038.6,424.9 1039.0,426.2 1039.2,427.8 1039.3,429.4 1039.8,431.0" fill="none" stroke="#6e6e6e" stroke-width="2.0"/>
<polyline points="1031.4,443.6 1030.5,440.6 1029.6,437.5 1029.3,434.4 1025.9,432.5 1022.2,431.0 1018.5,430.1 1014.8,428.5 1012.3,427.6 1009.2,426.0 1006.1,425.7" fill="none" stroke="#6e6e6e" stroke-width="1.8"/>
<polyline points="1054.7,398.6 1057.2,393.6 1059.7,388.6 1062.2,383.6 1064.1,378.6 1065.0,373.6 1064.7,368.7 1064.1,363.7 1062.8,358.7 1061.0,356.8 1059.1,354.9" fill="none" stroke="#6e6e6e" stroke-width="1.8"/>
<polyline points="1039.8,431.0 1041.3,433.1 1041.0,436.2 1040.4,439.3 1039.4,442.4 1038.8,445.0 1039.2,450.0 1040.0,455.6 1041.0,451.2 1041.6,446.2 1042.9,441.2 1045.0,442.4 1045.6,439.3 1046.5,436.2 1047.5,433.8 1048.7,431.3 1049.2,429.3" fill="none" stroke="#6e6e6e" stroke-width="1.5"/>
<polyline points="1049.2,429.3 1049.6,428.8 1050.6,425.7 1051.5,422.7 1052.4,419.6 1052.7,415.9 1052.5,414.6" fill="none" stroke="#6e6e6e" stroke-width="1.8"/>
<polyline points="1052.5,414.6 1052.7,412.8 1052.1,409.7 1050.9,406.6 1049.3,405.4" fill="none" stroke="#6e6e6e" stroke-width="1.6"/>
<polyline points="1113.4,261.1 1116.0,260.2 1114.2,258.1 1115.5,256.7 1116.2,255.3 1116.2,254.2 1116.9,252.8 1118.0,251.4 1118.1,249.7 1119.6,249.2 1119.9,247.1 1120.7,245.5 1123.0,245.8 1123.4,243.7 1125.7,243.8 1126.0,241.8 1127.5,241.0 1128.0,239.2 1130.3,239.2 1130.8,237.4 1130.9,235.5 1133.4,235.1 1132.1,232.6 1133.2,231.3 1134.5,230.2 1135.2,228.7 1135.0,227.0 1135.7,225.5 1135.1,223.8 1136.0,222.1 1135.9,224.2 1138.2,224.7 1139.3,225.9 1139.6,226.9 1140.6,225.6 1141.9,224.5 1142.3,222.9 1142.7,221.3 1144.4,221.0 1145.3,221.9 1146.8,221.2 1147.2,219.3 1148.2,218.0 1148.5,216.2 1150.3,215.5 1151.5,216.4 1152.4,216.5 1154.1,216.3 1155.6,215.6 1155.6,213.5 1157.9,213.7 1158.7,211.9 1160.3,211.3 1160.6,209.6 1162.4,209.1 1163.6,208.1 1163.9,205.8 1165.3,205.1 1167.3,204.6 1167.3,202.6 1168.2,201.2 1169.1,199.8" fill="none" stroke="#6e6e6e" stroke-width="1.6"/>
<polyline points="1065.6,339.0 1069.3,336.0 1073.0,333.5 1077.4,331.7 1082.4,329.8 1087.4,327.9 1092.4,326.1 1097.4,324.2 1101.7,322.3" fill="none" stroke="#6e6e6e" stroke-width="1.2"/>
<polyline points="1101.7,322.3 1104.8,321.1 1108.0,319.2 1109.2,316.1 1109.8,312.3 1111.7,313.6 1113.6,312.0" fill="none" stroke="#6e6e6e" stroke-width="1.4"/></g>
<g stroke-linejoin="round" stroke-linecap="round">
<polygon points="46.7,364.3 48.4,360.8 49.9,357.9 51.8,356.7 53.8,357.4 54.3,359.4 52.3,360.3 50.3,361.3 49.9,363.8 50.8,366.8 51.8,370.8 53.3,374.8 54.8,378.3 53.3,377.8 51.3,375.3 49.4,371.8 48.4,368.3 47.9,365.8" fill="#fff" stroke="#6e6e6e" stroke-width="0.8"/>
<polyline points="39.9,353.9 37.9,355.4 39.4,356.1" fill="none" stroke="#6e6e6e" stroke-width="1.0"/>
<polygon points="60.0,483.0 63.0,482.0 67.5,485.0 67.0,487.5 63.0,486.5" fill="#A80000" stroke="#6e6e6e" stroke-width="0.8"/>
<polygon points="72.5,487.0 76.0,486.5 82.5,489.0 82.0,491.0 77.0,490.5 73.0,489.0" fill="#A80000" stroke="#6e6e6e" stroke-width="0.8"/>
<polygon points="74.0,509.5 76.0,509.5 76.5,511.0 74.5,511.0" fill="#A80000" stroke="#6e6e6e" stroke-width="0.8"/>
<polygon points="98.5,510.0 100.0,510.5 102.5,514.5 102.5,516.5 100.5,515.0 99.0,512.5" fill="#A80000" stroke="#6e6e6e" stroke-width="0.8"/>
<polygon points="95.0,523.5 96.5,524.0 99.0,528.5 98.5,530.0 96.5,528.0 95.0,525.5" fill="#A80000" stroke="#6e6e6e" stroke-width="0.8"/>
<polyline points="146.4,69.3 147.4,71.8 148.9,73.7 150.5,75.6 149.6,77.4 148.0,76.4 146.9,73.7 146.1,71.2" fill="none" stroke="#6e6e6e" stroke-width="1.8"/>
<polyline points="149.9,70.0 151.7,72.5 153.0,75.0 152.1,76.8" fill="none" stroke="#6e6e6e" stroke-width="1.6"/>
<polyline points="154.9,69.7 157.1,72.5 158.4,74.7 157.4,78.1 156.4,80.6 154.9,82.7 153.4,84.7 152.1,87.2 153.6,89.9 155.5,92.4 156.7,94.7 155.5,96.8 153.4,98.4 151.4,100.1 150.1,103.0 149.1,105.5 148.1,108.4 146.4,110.6" fill="none" stroke="#6e6e6e" stroke-width="1.7"/>
<polyline points="156.1,73.7 156.9,76.8 155.9,79.9 156.4,84.3 155.1,87.7 156.4,91.8" fill="none" stroke="#fff" stroke-width="1.0"/>
<polyline points="143.1,87.7 143.9,90.5 142.4,93.7 140.1,96.4 137.4,98.9 135.2,101.8 133.4,104.9 132.4,108.4 131.9,111.7 133.7,113.6 137.2,113.4 140.6,112.7 143.4,110.6 142.4,107.9 139.7,108.6 136.7,109.9 135.7,106.7 138.2,103.6 141.4,100.6 143.9,96.9" fill="none" stroke="#6e6e6e" stroke-width="1.5"/>
<polyline points="149.3,96.1 147.4,98.6 145.1,101.4 143.9,104.3 144.9,106.4" fill="none" stroke="#6e6e6e" stroke-width="1.3"/>
<polyline points="152.1,92.4 150.5,94.7 149.6,97.4" fill="none" stroke="#6e6e6e" stroke-width="1.2"/>
<polygon points="111.5,107.1 113.7,107.4 116.0,108.9 114.7,110.1 112.5,109.9" fill="#fff" stroke="#6e6e6e" stroke-width="0.8"/>
<polygon points="109.0,116.1 110.6,115.5 111.5,118.6 111.0,122.3 109.4,124.2 107.7,124.8 107.5,122.3 108.5,119.2" fill="#fff" stroke="#6e6e6e" stroke-width="0.8"/>
<polygon points="104.7,127.9 107.5,127.3 110.6,128.8 112.5,130.4 110.0,131.1 106.9,130.1" fill="#fff" stroke="#6e6e6e" stroke-width="0.8"/>
<polyline points="997.8,264.3 999.7,262.7 1001.6,261.2" fill="none" stroke="#6e6e6e" stroke-width="1.8"/>
<polyline points="996.6,271.1 999.1,270.1 1001.2,270.6" fill="none" stroke="#6e6e6e" stroke-width="2.0"/>
<polyline points="949.8,306.3 951.7,307.6" fill="none" stroke="#6e6e6e" stroke-width="1.8"/>
<polyline points="1012.2,245.6 1016.5,241.5 1020.9,239.0" fill="none" stroke="#6e6e6e" stroke-width="1.3"/>
<polygon points="743.6,198.7 747.3,195.6 752.3,192.4 756.7,190.6 754.8,193.7 750.4,196.8 746.1,199.9 743.8,200.5" fill="#D1FFBE" stroke="#6e6e6e" stroke-width="0.8"/>
<polygon points="721.8,221.7 723.0,221.4 723.4,223.0 722.1,223.4" fill="#D1FFBE" stroke="#6e6e6e" stroke-width="0.8"/>
<polygon points="812.8,251.0 815.3,249.8 818.2,249.6 817.2,252.3 815.3,256.0 813.4,255.4" fill="#D1FFBE" stroke="#6e6e6e" stroke-width="0.8"/>
<polygon points="805.9,268.5 807.8,267.9 808.4,270.4 806.6,271.2" fill="#D1FFBE" stroke="#6e6e6e" stroke-width="0.8"/>
<polygon points="844.8,241.0 848.6,238.5 851.7,239.4 852.9,241.8 848.6,242.5" fill="#D1FFBE" stroke="#6e6e6e" stroke-width="0.8"/>
<polygon points="1062.4,349.8 1064.9,347.0 1066.8,345.4 1072.4,342.9 1077.4,340.8 1082.4,338.8 1087.4,336.4 1089.9,334.5 1093.6,331.4 1096.7,329.6 1099.2,328.1 1100.1,329.1 1098.0,330.8 1100.8,330.2 1103.3,328.8 1102.7,330.4 1099.9,332.0 1096.1,335.0 1092.4,338.3 1088.6,341.4 1083.6,344.5 1078.7,347.3 1073.7,349.8 1068.7,352.2 1063.7,354.5 1061.9,352.9" fill="#A80000" stroke="#6e6e6e" stroke-width="1.0"/>
<polyline points="1063.7,354.5 1068.7,352.2 1073.7,349.8 1078.7,347.3 1083.6,344.5 1088.6,341.4 1092.4,338.3 1096.1,335.0" fill="none" stroke="#6e6e6e" stroke-width="1.5"/>
<polyline points="1092.4,329.8 1095.5,328.3 1098.6,326.7" fill="none" stroke="#6e6e6e" stroke-width="1.2"/>
<polygon points="1058.7,351.6 1060.6,350.4 1061.4,352.2 1060.0,354.5 1058.7,354.1" fill="#A80000" stroke="#6e6e6e" stroke-width="0.8"/>
<polygon points="1124.8,314.2 1126.7,313.0 1129.2,313.0 1130.0,314.2 1127.9,315.3 1125.8,315.6" fill="#A80000" stroke="#6e6e6e" stroke-width="0.8"/>
<polygon points="1133.5,314.2 1136.0,314.6 1138.5,313.8 1140.4,312.3 1140.7,313.6 1139.1,315.1 1136.0,315.7 1134.1,315.3" fill="#A80000" stroke="#6e6e6e" stroke-width="0.8"/>
<polyline points="1119.8,313.0 1121.7,311.7 1123.3,310.5" fill="none" stroke="#6e6e6e" stroke-width="1.0"/>
<polyline points="1137.6,305.5 1137.9,302.2 1137.6,299.9 1136.6,297.5 1135.6,295.5 1134.4,293.9 1132.6,292.8 1131.1,293.0 1129.2,293.0 1128.4,293.9 1129.9,294.6" fill="none" stroke="#6e6e6e" stroke-width="1.3"/>
<polyline points="1119.8,308.6 1121.7,307.6 1124.3,307.9 1125.5,308.7 1127.5,307.5" fill="none" stroke="#6e6e6e" stroke-width="1.2"/>
<polyline points="1113.6,292.4 1110.4,291.1 1111.1,288.7 1112.3,286.2 1114.8,283.7 1117.3,281.2" fill="none" stroke="#6e6e6e" stroke-width="1.2"/>
<polygon points="1107.3,324.2 1108.3,323.6 1108.8,325.4 1107.8,326.1" fill="#FFAA00" stroke="#6e6e6e" stroke-width="0.8"/>
<polyline points="1108.8,306.7 1109.8,309.9 1111.1,312.3 1112.9,313.0" fill="none" stroke="#6e6e6e" stroke-width="2.0"/>
<polyline points="1110.4,306.1 1111.7,308.6 1113.6,310.5" fill="none" stroke="#6e6e6e" stroke-width="1.6"/>
<polygon points="1043.8,470.5 1045.4,475.5 1047.9,479.9 1050.1,483.0 1046.0,483.6 1041.0,484.3 1037.3,485.9 1032.9,487.8 1030.4,487.8 1029.4,483.6 1027.6,478.9 1029.8,483.0 1031.7,486.4 1037.3,487.4 1042.3,485.6 1047.3,484.9 1051.2,486.4 1053.0,490.1 1052.5,494.9 1050.0,496.7 1048.8,492.4 1047.5,488.3 1045.0,489.4 1045.5,493.6 1046.8,498.6 1046.3,502.3 1042.5,503.0 1038.8,502.3 1036.3,500.1 1033.8,501.1 1029.8,502.3 1025.1,501.7 1031.0,504.2 1037.3,505.5 1039.8,507.3 1041.8,509.8 1043.5,512.3 1040.0,512.3 1036.3,510.1 1033.8,511.7 1031.0,513.6 1026.3,511.7 1029.8,515.4 1034.8,516.1 1038.5,514.8 1041.0,517.3 1041.8,520.8 1042.9,518.8 1045.0,515.3 1048.1,511.6 1051.9,507.8 1056.0,504.1 1058.7,501.8 1058.2,496.1 1055.7,490.1 1052.6,484.6 1049.1,479.4 1046.0,474.4" fill="#fff" stroke="#6e6e6e" stroke-width="1.2"/>
<polyline points="1012.3,453.7 1017.3,454.3 1022.3,456.2 1027.3,458.7 1031.0,461.8 1034.8,463.1" fill="none" stroke="#6e6e6e" stroke-width="1.3"/>
<polyline points="1020.4,446.2 1024.8,451.2 1029.8,456.2 1032.9,458.7" fill="none" stroke="#6e6e6e" stroke-width="1.3"/>
<polyline points="1023.6,440.0 1027.3,445.0 1031.0,450.0" fill="none" stroke="#6e6e6e" stroke-width="1.3"/>
<polyline points="1029.8,445.0 1032.3,448.7 1032.9,453.7" fill="none" stroke="#6e6e6e" stroke-width="1.0"/>
<polyline points="1019.8,526.0 1021.1,527.9 1023.6,527.3" fill="none" stroke="#6e6e6e" stroke-width="1.0"/>
<polygon points="574.2,781.5 573.0,772.5 571.5,763.8 570.0,755.5 570.8,750.0 568.0,757.5 568.0,765.0 569.5,773.8 571.5,781.2" fill="#fff" stroke="#6e6e6e" stroke-width="0.8"/>
<polyline points="572.0,747.5 567.5,746.2 563.8,743.8" fill="none" stroke="#6e6e6e" stroke-width="1.0"/>
<polyline points="568.0,747.0 565.0,749.0" fill="none" stroke="#6e6e6e" stroke-width="1.0"/>
<polygon points="575.0,736.2 572.5,733.0 570.0,732.0 572.5,730.5 576.2,731.2 578.0,734.5" fill="#fff" stroke="#6e6e6e" stroke-width="0.8"/>
<polygon points="580.5,726.2 578.0,725.0 581.2,722.5 585.5,721.2 587.0,723.8 583.8,726.2" fill="#fff" stroke="#6e6e6e" stroke-width="0.8"/>
<polygon points="591.2,716.2 590.5,712.0 593.0,710.0 595.0,713.0 597.5,710.5 600.5,712.5 597.5,715.0 594.5,716.5" fill="#fff" stroke="#6e6e6e" stroke-width="0.8"/>
<polyline points="576.2,738.0 581.2,730.5 588.0,723.0 597.5,716.5 610.0,710.5 621.2,704.2 631.2,698.0" fill="none" stroke="#6e6e6e" stroke-width="0.8"/>
<polyline points="983.8,741.2 980.0,733.8 976.2,725.0 972.5,716.2 968.8,708.8 970.0,702.5 965.0,697.5 960.0,688.8 953.8,677.5 948.8,667.5 945.0,657.5 942.0,645.0" fill="none" stroke="#6e6e6e" stroke-width="1.3"/>
<polyline points="982.5,787.5 985.5,780.0 987.0,770.0 987.0,760.0 986.0,750.0 984.5,741.2" fill="none" stroke="#6e6e6e" stroke-width="1.3"/>
<polyline points="986.2,781.2 984.2,790.0 979.5,797.0" fill="none" stroke="#6e6e6e" stroke-width="0.9"/>
<polyline points="975.0,800.5 968.8,803.5" fill="none" stroke="#6e6e6e" stroke-width="0.9"/>
<polyline points="963.8,804.8 956.2,806.2" fill="none" stroke="#6e6e6e" stroke-width="0.9"/>
<polygon points="1139.8,229.8 1141.2,228.8 1142.0,230.8 1140.5,231.8" fill="#FFAA00" stroke="#6e6e6e" stroke-width="0.8"/>
<polygon points="1143.7,226.6 1145.4,225.8 1146.0,227.5 1144.5,228.3" fill="#FFAA00" stroke="#6e6e6e" stroke-width="0.8"/>
<polygon points="1147.5,222.3 1149.7,221.0 1150.7,222.9 1148.5,224.2" fill="#FFAA00" stroke="#6e6e6e" stroke-width="0.8"/>
<polyline points="1163.4,206.1 1165.3,203.0 1167.2,200.5 1168.4,198.6" fill="none" stroke="#6e6e6e" stroke-width="2.0"/>
<polygon points="1008.7,409.7 1009.7,409.2 1010.4,410.3 1009.6,411.2" fill="#A80000" stroke="#8a3a3a" stroke-width="0.5"/>
<polygon points="629.5,685.0 632.5,683.0 636.2,684.2 637.0,688.0 634.5,690.0 633.8,693.0 630.5,692.0 631.2,688.8" fill="#fff" stroke="#6e6e6e" stroke-width="0.8"/>
<polygon points="696.4,685.9 698.9,683.4 702.4,683.1 704.4,685.5 704.9,688.6 703.0,690.6 699.9,688.9 697.4,687.4" fill="#fff" stroke="#6e6e6e" stroke-width="0.8"/>
<polygon points="749.8,676.4 751.6,674.5 754.7,673.9 757.2,675.1 758.2,677.4 756.0,678.9 752.9,678.6" fill="#fff" stroke="#6e6e6e" stroke-width="0.8"/>
<polyline points="771.6,674.3 772.8,678.0 771.6,682.4" fill="none" stroke="#6e6e6e" stroke-width="1.0"/>
<polyline points="759.7,698.0 762.2,700.1 764.7,698.3 767.2,699.8 765.3,702.3 762.2,702.9" fill="none" stroke="#6e6e6e" stroke-width="1.6"/>
<polyline points="724.2,701.7 727.3,702.1 730.4,701.1" fill="none" stroke="#6e6e6e" stroke-width="0.9"/>
<polyline points="732.9,701.3 736.0,701.1" fill="none" stroke="#6e6e6e" stroke-width="0.9"/>
<polygon points="657.0,682.0 659.0,681.0 660.0,683.5 658.0,684.5" fill="#fff" stroke="#6e6e6e" stroke-width="0.8"/>
<polyline points="805.0,664.0 812.5,661.0 820.0,662.5 827.5,661.0 833.8,661.5 840.0,665.0 846.2,668.0" fill="none" stroke="#6e6e6e" stroke-width="1.0"/>
<polyline points="857.5,679.5 861.2,682.0 865.0,680.5" fill="none" stroke="#6e6e6e" stroke-width="1.2"/>
<polyline points="1024.8,391.3 1021.3,395.5 1019.1,399.8 1019.3,404.8 1020.2,409.8 1021.4,414.8 1023.1,419.2" fill="none" stroke="#6e6e6e" stroke-width="2.4"/>
<polyline points="1027.8,391.3 1026.3,396.1 1025.8,401.1 1027.6,404.8 1026.3,409.2 1029.8,412.3" fill="none" stroke="#6e6e6e" stroke-width="1.8"/>
<polygon points="918.7,720.9 922.8,719.8 926.7,721.9 926.1,725.2 924.1,728.5 921.9,732.2 920.2,733.1 919.3,730.7 921.5,727.4 922.8,724.1 920.9,722.8 919.3,724.1 917.9,726.1 917.1,723.4" fill="#fff" stroke="#6e6e6e" stroke-width="0.8"/>
<polygon points="934.5,748.0 937.0,746.2 939.0,752.5 938.0,758.8 936.0,756.2 935.0,752.0" fill="#fff" stroke="#6e6e6e" stroke-width="0.8"/>
<polyline points="962.0,693.8 965.5,698.0 970.0,703.0 969.0,709.0 967.0,705.0 964.0,700.0" fill="none" stroke="#6e6e6e" stroke-width="1.2"/>
<polyline points="972.5,716.2 975.0,722.5 978.0,730.0" fill="none" stroke="#6e6e6e" stroke-width="1.2"/>
</g>
<g fill="none" stroke="#111" stroke-width="1.6"><rect x="20.3" y="743" width="205.2" height="241"/><polyline points="225.5,806.2 377.6,806.2 377.6,984"/><polyline points="377.6,832.6 568.4,832.6 568.4,984 225.5,984"/></g>
<g stroke-linejoin="round" stroke-linecap="round">
<polygon points="137.8,777.5 140.3,778.1 142.8,781.8 145.9,783.7 149.7,783.1 153.4,785.0 156.5,788.1 159.7,789.3 162.1,791.8 164.6,793.1 164.6,797.4 163.4,800.5 165.3,804.3 167.1,808.0 169.0,812.4 171.5,817.4 174.0,821.7 175.9,826.1 176.9,828.6 129.7,874.7 128.5,876.0 130.3,877.8 132.8,879.7 133.5,883.5 132.8,890.1 129.7,890.1 129.1,884.7 127.9,881.0 126.0,877.2 124.7,873.5 122.2,869.7 120.4,864.8 119.8,861.0 118.5,857.3 116.6,854.2 116.0,852.3 113.5,851.0 112.9,847.3 111.6,845.4 109.2,844.8 106.0,844.8 102.3,846.0 99.2,844.8 96.1,844.8 92.9,843.6 90.4,844.8 88.0,846.7 84.8,846.0 82.3,844.8 78.6,843.6 74.9,842.3 71.1,841.1 67.4,839.8 63.6,838.6 61.1,837.3 58.7,835.4 57.4,832.3 54.9,829.8 51.8,827.3 48.7,826.1 46.2,823.6 43.1,821.1 40.0,819.2 39.3,818.4 41.8,819.9 44.9,822.1 48.1,824.4 50.5,825.8 53.7,827.6 56.8,829.6 58.7,832.1 61.8,832.7 64.9,834.6 68.6,835.8 72.4,837.1 76.1,836.4 79.9,835.2 83.6,834.0 82.3,831.1 79.9,827.3 78.6,823.6 76.1,821.7 74.2,818.6 76.7,816.1 79.9,814.3 82.3,812.4 84.8,811.1 82.3,808.6 81.1,806.1 82.3,802.4 84.8,799.9 87.3,797.4 89.8,795.5 92.9,794.9 96.1,795.5 99.8,796.2 102.3,797.4 104.8,799.9 107.3,803.0 110.4,804.9 112.9,803.7 115.4,801.8 117.3,801.2 116.0,798.7 114.1,796.2 112.3,793.1 111.0,789.9 111.0,786.8 112.9,785.0 114.8,782.5 116.0,780.0 118.5,781.2 121.0,783.7 123.5,785.6 125.4,788.1 126.0,791.8 125.4,795.5 127.2,797.4 129.7,798.7 130.3,794.9 131.6,791.2 132.8,787.4 134.1,783.7 135.3,780.6" fill="#A80000" stroke="#6e6e6e" stroke-width="1.1"/>
<polygon points="130.7,889.5 133.4,889.5 133.4,891.8 137.4,891.1 141.4,891.8 142.2,894.2 141.4,898.2 141.8,902.2 140.6,906.2 140.2,911.0 139.8,915.7 141.4,920.5 143.4,924.5 142.6,927.7 139.8,930.9 136.6,932.1 135.0,929.3 132.6,928.5 130.7,929.3 129.5,926.9 128.3,925.3 129.9,922.1 131.1,918.9 129.1,915.7 128.3,912.5 129.5,909.4 128.3,906.2 129.9,903.0 130.7,899.8 131.8,897.4 131.4,894.2 130.7,891.8" fill="#A80000" stroke="#6e6e6e" stroke-width="0.8"/>
<polyline points="131.8,895.8 131.1,901.4 129.9,907.0 130.7,911.8 130.3,917.3 131.4,922.9 131.1,927.7" fill="none" stroke="#6e6e6e" stroke-width="2.6"/>
<polyline points="135.0,894.2 135.8,899.8 135.0,905.4 136.2,911.0 135.0,917.3 135.8,923.7 134.2,928.5" fill="none" stroke="#6e6e6e" stroke-width="2.2"/>
<polyline points="137.8,893.4 137.4,901.4 138.2,907.8 137.4,915.7 139.0,923.7" fill="none" stroke="#6e6e6e" stroke-width="1.0"/>
<polyline points="133.4,908.6 136.6,909.8" fill="none" stroke="#ddd" stroke-width="0.8"/>
<polyline points="127.9,879.9 131.8,880.9 134.2,880.3" fill="none" stroke="#6e6e6e" stroke-width="1.5"/>
<polygon points="78.0,794.3 80.5,796.2 80.8,799.3 78.6,801.2 77.1,798.7 76.7,796.2" fill="#A80000" stroke="#6e6e6e" stroke-width="0.8"/>
<polyline points="97.3,785.6 99.8,784.7 102.9,783.7" fill="none" stroke="#6e6e6e" stroke-width="1.0"/>
<polyline points="78.0,791.4 80.5,790.9" fill="none" stroke="#6e6e6e" stroke-width="1.0"/>
<polygon points="26.9,808.0 30.0,810.5 33.1,812.4 33.5,814.9 31.2,815.5 28.7,813.0 26.2,809.9" fill="#A80000" stroke="#6e6e6e" stroke-width="1.0"/>
<polygon points="76.7,852.9 79.2,849.8 82.3,850.4 86.1,851.0 89.8,851.0 91.3,852.9 88.6,854.2 85.5,856.0 81.7,854.8 78.6,854.2" fill="#A80000" stroke="#6e6e6e" stroke-width="1.0"/>
<polygon points="97.3,850.4 101.0,848.5 106.0,846.7 109.8,846.0 112.3,847.9 113.3,852.3 111.6,855.4 109.2,856.0 106.7,854.2 102.9,852.9 99.8,852.3" fill="#A80000" stroke="#6e6e6e" stroke-width="1.0"/>
<polyline points="109.8,859.8 113.5,860.4 117.0,861.3" fill="none" stroke="#6e6e6e" stroke-width="1.2"/>
<polyline points="112.9,846.0 114.8,851.0 118.5,856.0 119.8,861.0" fill="none" stroke="#6e6e6e" stroke-width="1.4"/>
<polygon points="263.0,866.0 265.0,863.5 266.8,862.5 266.0,864.5 264.0,866.8" fill="#A80000" stroke="#6e6e6e" stroke-width="0.8"/>
<polygon points="272.0,861.5 274.0,859.5 277.0,858.5 280.0,858.8 281.2,860.5 280.5,863.5 278.5,865.2 275.5,864.8 273.0,863.5" fill="#A80000" stroke="#6e6e6e" stroke-width="0.8"/>
<polygon points="300.0,870.5 302.5,870.0 304.5,868.2 306.0,869.0 307.5,871.5 310.0,874.0 311.2,876.0 309.5,876.5 306.5,875.8 304.0,875.5 302.0,873.5" fill="#A80000" stroke="#6e6e6e" stroke-width="0.8"/>
<polygon points="318.0,879.0 320.0,877.5 323.0,878.0 326.0,877.8 328.5,878.5 327.0,879.8 324.0,880.0 321.0,879.8 319.0,879.8" fill="#A80000" stroke="#6e6e6e" stroke-width="0.8"/>
<polygon points="322.8,883.5 324.5,883.0 326.5,884.0 326.2,885.8 324.5,886.0 323.2,885.0" fill="#A80000" stroke="#6e6e6e" stroke-width="0.8"/>
<polygon points="329.5,882.0 331.0,881.0 332.5,882.0 333.0,884.0 335.0,883.5 337.5,882.5 340.0,883.5 342.0,885.5 341.5,887.5 339.0,888.5 336.5,889.2 334.5,888.5 333.5,886.5 331.5,885.5 330.0,884.0" fill="#A80000" stroke="#6e6e6e" stroke-width="0.8"/>
<polygon points="329.0,890.5 330.5,889.2 332.2,888.8 331.5,890.2 330.0,891.0" fill="#A80000" stroke="#6e6e6e" stroke-width="0.8"/>
<polygon points="343.5,897.0 345.0,895.2 347.5,896.5 350.5,898.0 354.0,899.0 357.0,900.5 359.5,903.0 360.5,906.0 364.0,909.0 362.5,911.0 359.5,912.5 356.5,914.0 354.0,915.5 351.5,917.0 349.5,919.5 347.5,920.0 345.5,918.0 343.8,917.0 344.0,914.0 344.5,911.0 343.0,908.5 341.2,905.5 341.8,903.0 343.5,901.0 344.0,899.0" fill="#A80000" stroke="#6e6e6e" stroke-width="0.8"/>
<polygon points="396.9,914.9 400.0,913.1 403.1,910.6 404.3,906.8 406.2,904.3 410.0,903.7 414.9,904.3 421.2,905.6 427.4,906.2 433.6,906.2 439.9,905.6 446.1,905.0 452.3,905.6 458.6,905.6 464.8,906.2 471.0,906.8 477.3,907.4 483.5,908.1 489.8,908.7 496.0,909.9 502.2,911.8 508.5,913.7 513.4,914.9 515.3,914.3 515.1,918.7 514.7,922.4 517.2,923.7 514.7,925.5 511.6,928.0 508.5,931.1 505.3,933.6 502.2,936.1 498.5,938.0 494.7,939.9 489.8,941.7 484.8,943.0 479.8,944.9 474.8,946.1 471.0,946.7 467.3,944.9 462.3,943.6 457.3,943.0 452.3,941.7 447.4,942.4 442.4,943.6 437.4,943.0 432.4,942.4 427.4,944.2 422.4,944.9 418.7,946.1 414.9,944.9 410.0,943.6 406.2,944.2 402.5,945.5 401.2,942.4 401.8,938.6 403.1,934.9 404.3,931.1 405.0,927.4 403.1,923.7 401.8,919.9 398.7,917.4" fill="#FFFFBE" stroke="#6e6e6e" stroke-width="0.8"/>
<polygon points="518.4,933.0 522.2,931.4 527.2,930.1 533.4,929.3 538.4,929.9 540.2,930.9 535.9,932.4 530.9,933.6 525.9,934.6 520.9,935.1 519.1,934.3" fill="#FFFFBE" stroke="#6e6e6e" stroke-width="0.8"/>
<polygon points="534.6,916.2 537.8,916.8 540.9,916.2 543.4,917.7 541.5,919.7 539.0,920.9 536.5,919.3" fill="#FFFFBE" stroke="#6e6e6e" stroke-width="0.8"/>
</g>
<g stroke="#000" stroke-width="1.5" stroke-linecap="butt"><line x1="1056.8" y1="188.6" x2="1064.3" y2="246.6"/><line x1="1193.1" y1="225.7" x2="1085.5" y2="259.7"/><line x1="1173.5" y1="272.6" x2="1093.6" y2="298"/><line x1="1165.4" y1="340.5" x2="1104.2" y2="311.7"/><line x1="1188" y1="405.4" x2="1076.2" y2="314.6"/><line x1="1111" y1="397.7" x2="1055.4" y2="375.9"/><line x1="1180.3" y1="475.7" x2="1041" y2="413.5"/><line x1="1103.4" y1="473" x2="1047.3" y2="425"/><line x1="1137.4" y1="539.5" x2="1012.3" y2="413.5"/></g>
<g font-family='"DejaVu Sans Condensed","Liberation Sans",sans-serif' font-size="10.6" text-anchor="middle" fill="#000">
<text x="181" y="120.5">WA</text><text x="181" y="134.4">112</text>
<text x="143" y="213">OR</text><text x="143" y="227">112.7</text>
<text x="255.5" y="245">ID</text><text x="255.5" y="258.75">102</text>
<text x="372.5" y="187">MT</text><text x="372.5" y="200.75">96.4</text>
<text x="540.5" y="203">ND</text><text x="540.5" y="216.75">90.8</text>
<text x="539.5" y="284.5">SD</text><text x="539.5" y="298">97.3</text>
<text x="390.5" y="303">WY</text><text x="390.5" y="316.75">97</text>
<text x="539.25" y="361.75">NE</text><text x="539.25" y="375">92.4</text>
<text x="414.5" y="416.75">CO</text><text x="414.5" y="430.5">104</text>
<text x="563" y="445">KS</text><text x="563" y="458.75">89.7</text>
<text x="185" y="359.5">NV</text><text x="185" y="373">99.5</text>
<text x="288.75" y="385.5">UT</text><text x="288.75" y="399.25">100.5</text>
<text x="97.5" y="402" fill="#fff">CA</text><text x="97.5" y="415.75" fill="#fff">141.6</text>
<text x="261.25" y="521.75">AZ</text><text x="261.25" y="535.5">112.5</text>
<text x="385.5" y="538.25">NM</text><text x="385.5" y="552">94.2</text>
<text x="577.5" y="523">OK</text><text x="577.5" y="536.75">85.5</text>
<text x="555" y="650.75">TX</text><text x="555" y="664.5">91.8</text>
<text x="651.25" y="240">MN</text><text x="651.25" y="253.75">93.7</text>
<text x="722.5" y="275">WI</text><text x="722.5" y="288.75">99.5</text>
<text x="665.75" y="352.5">IA</text><text x="665.75" y="366.25">89.6</text>
<text x="835.5" y="311.75">MI</text><text x="835.5" y="325">89.8</text>
<text x="687.5" y="451.75">MO</text><text x="687.5" y="465.5">88</text>
<text x="753.75" y="405.5">IL</text><text x="753.75" y="419.25">94.7</text>
<text x="813.75" y="405.5">IN</text><text x="813.75" y="419.25">90.8</text>
<text x="882.5" y="393">OH</text><text x="882.5" y="406.75">95.1</text>
<text x="839.25" y="467.5">KY</text><text x="839.25" y="480.75">91.7</text>
<text x="820.75" y="513.75">TN</text><text x="820.75" y="527.5">90</text>
<text x="688" y="544.25">AR</text><text x="688" y="557.5">90.5</text>
<text x="693.25" y="650.5">LA</text><text x="693.25" y="664.25">93.2</text>
<text x="750.75" y="600.5">MS</text><text x="750.75" y="614.25">87.3</text>
<text x="818.75" y="597.5">AL</text><text x="818.75" y="610.75">87.6</text>
<text x="895" y="590.5">GA</text><text x="895" y="604.25">91.7</text>
<text x="942" y="555">SC</text><text x="942" y="568.75">94.6</text>
<text x="945" y="712.5">FL</text><text x="945" y="725.75">102</text>
<text x="984.25" y="357.5">PA</text><text x="984.25" y="370.75">97.5</text>
<text x="932.5" y="424.25">WV</text><text x="932.5" y="437.5">88.6</text>
<text x="976.25" y="451.75">VA</text><text x="976.25" y="465">101.4</text>
<text x="996.25" y="514.25">NC</text><text x="996.25" y="528">97.8</text>
<text x="1029.5" y="286.25" fill="#fff">NY</text><text x="1029.5" y="300" fill="#fff">124.7</text>
<text x="1122" y="196.6">ME</text><text x="1122" y="210.3">113.4</text>
<text x="1054.2" y="172">VT</text><text x="1054.2" y="185.9">113.7</text>
<text x="1211" y="225" text-anchor="end">NH</text><text x="1211" y="238.9" text-anchor="end">110.1</text>
<text x="1184.2" y="271.5">MA</text><text x="1184.2" y="285.4">145.1</text>
<text x="1183.5" y="342.3" text-anchor="end">RI</text><text x="1183.5" y="356.2" text-anchor="end">109.3</text>
<text x="1196.3" y="402">CT</text><text x="1196.3" y="415.8">113.5</text>
<text x="1118.8" y="396.5">NJ</text><text x="1118.8" y="410">114.8</text>
<text x="1183.1" y="474.3" text-anchor="start">DE</text><text x="1183.1" y="488.2" text-anchor="start">103.5</text>
<text x="1125" y="472.6" text-anchor="end">MD</text><text x="1125" y="486.2" text-anchor="end">114.9</text>
<text x="1140.3" y="536.5" text-anchor="start">DC</text><text x="1140.3" y="550.3" text-anchor="start">135.2</text>
</g>
<g font-family='"DejaVu Sans Condensed","Liberation Sans",sans-serif' font-size="15.6" text-anchor="middle">
<text x="133.6" y="823.9" fill="#fff">AK</text><text x="133.6" y="843.8" fill="#fff">127.3</text>
<text x="280.7" y="911" fill="#000">HI</text><text x="280.7" y="931.2" fill="#000">182.3</text>
<text x="453.7" y="919.9" fill="#000">PR</text><text x="453.7" y="939.9" fill="#000">103.4</text>
</g>
<g font-family='"DejaVu Sans Condensed","Liberation Sans",sans-serif' fill="#000">
<text x="1042.3" y="786.3" font-size="22.8" textLength="67" lengthAdjust="spacingAndGlyphs">INDEX</text>
<rect x="1044.5" y="799.5" width="38" height="19" fill="#D1FFBE" stroke="#6e6e6e" stroke-width="1"/>
<text x="1091.5" y="814.7" font-size="16">94.0 - less</text>
<rect x="1044.5" y="827.5" width="38" height="19" fill="#FFFFBE" stroke="#6e6e6e" stroke-width="1"/>
<text x="1091.5" y="842.7" font-size="16">94.0 - 102.70</text>
<rect x="1044.5" y="855.5" width="38" height="19" fill="#FFAA00" stroke="#6e6e6e" stroke-width="1"/>
<text x="1091.5" y="870.7" font-size="16">102.7 - 123.4</text>
<rect x="1044.5" y="883.5" width="38" height="19" fill="#A80000" stroke="#6e6e6e" stroke-width="1"/>
<text x="1091.5" y="898.7" font-size="16">123.4 - more</text>
</g>
<g font-family='"DejaVu Sans Condensed","Liberation Sans",sans-serif' text-anchor="middle" fill="#000"><text x="671" y="72.4" font-size="33" font-weight="bold" textLength="516.5" lengthAdjust="spacingAndGlyphs">Composite Cost of Living Index</text><text x="670.5" y="111" font-size="31.8" textLength="246.5" lengthAdjust="spacingAndGlyphs">2025 1st Quarter</text></g>
</svg>
</body></html>
